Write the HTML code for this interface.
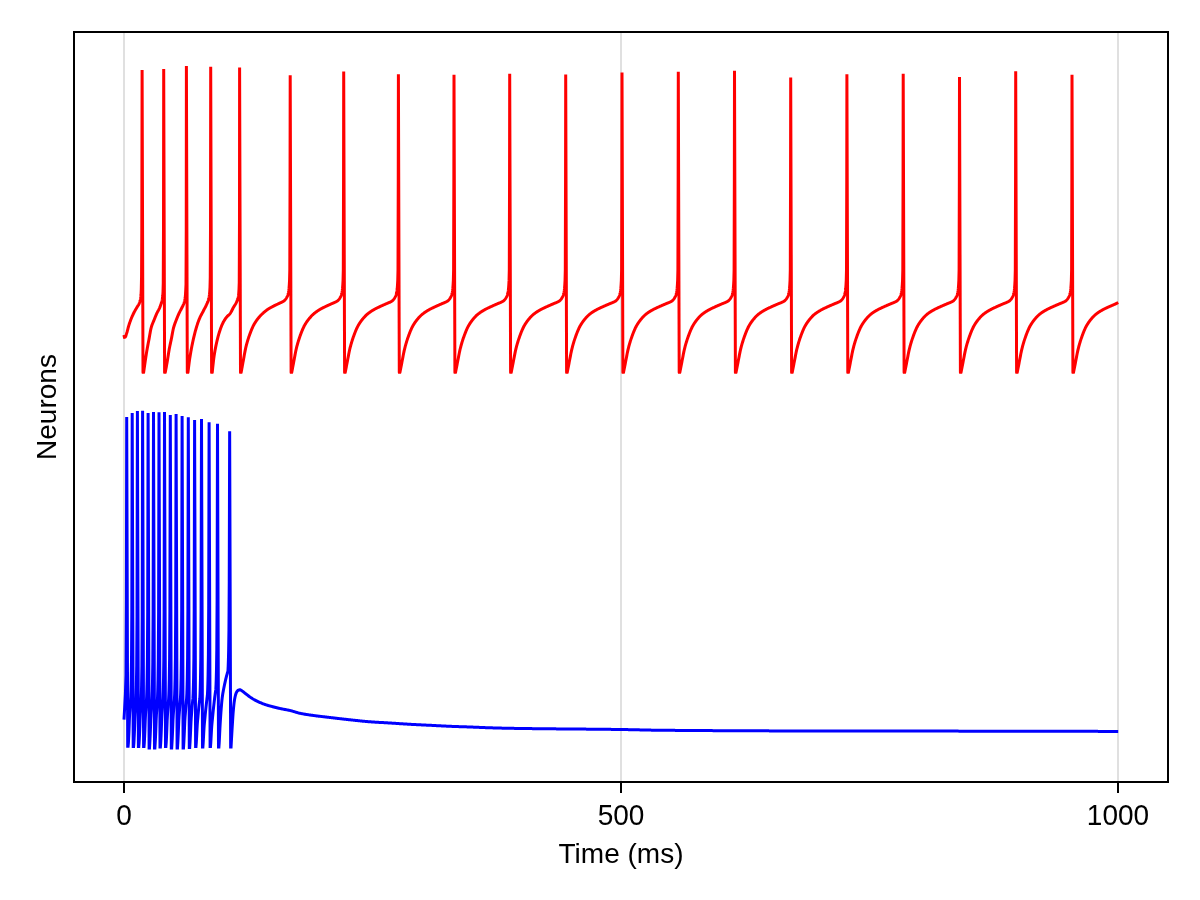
<!DOCTYPE html>
<html lang="en">
<head>
<meta charset="utf-8">
<title>Neurons</title>
<style>
html,body{margin:0;padding:0;background:#fff;}
body{width:1200px;height:900px;overflow:hidden;}
svg{display:block;}
text{font-family:"Liberation Sans",sans-serif;font-size:28px;fill:#000;}
</style>
</head>
<body>
<svg width="1200" height="900" viewBox="0 0 1200 900">
<rect x="0" y="0" width="1200" height="900" fill="#ffffff"/>
<g stroke="#000" stroke-opacity="0.12" stroke-width="2" fill="none">
<line x1="124" y1="33" x2="124" y2="781"/>
<line x1="621" y1="33" x2="621" y2="781"/>
<line x1="1118" y1="33" x2="1118" y2="781"/>
</g>
<path d="M124.00,335.00 L124.25,336.54 L124.49,337.30 L124.74,337.27 L124.99,337.17 L125.24,337.04 L125.48,336.77 L125.73,336.19 L125.98,335.42 L126.22,334.63 L126.47,333.88 L126.72,333.09 L126.97,332.24 L127.21,331.35 L127.46,330.44 L127.71,329.52 L127.96,328.59 L128.20,327.67 L128.45,326.77 L128.70,325.91 L128.94,325.09 L129.19,324.32 L129.44,323.58 L129.69,322.85 L129.93,322.13 L130.18,321.43 L130.43,320.75 L130.68,320.08 L130.92,319.43 L131.17,318.79 L131.42,318.17 L131.66,317.56 L131.91,316.97 L132.16,316.40 L132.41,315.84 L132.65,315.30 L132.90,314.77 L133.15,314.25 L133.39,313.74 L133.64,313.24 L133.89,312.75 L134.14,312.27 L134.38,311.80 L134.63,311.33 L134.88,310.87 L135.12,310.43 L135.37,309.99 L135.62,309.57 L135.87,309.15 L136.11,308.74 L136.36,308.33 L136.61,307.92 L136.86,307.51 L137.10,307.10 L137.35,306.69 L137.60,306.27 L137.84,305.88 L138.09,305.50 L138.34,305.11 L138.59,304.70 L138.83,304.25 L139.08,303.74 L139.33,303.19 L139.58,302.58 L139.82,301.87 L140.07,301.02 L140.32,300.00 L140.56,298.71 L140.81,296.91 L141.06,294.25 L141.31,288.88 L141.55,276.70 L141.80,230.00 L142.10,69.90 L143.00,372.20 L143.30,373.20 L143.65,372.40 L143.90,370.56 L144.15,368.74 L144.39,366.95 L144.64,365.19 L144.89,363.46 L145.14,361.76 L145.39,360.09 L145.63,358.44 L145.88,356.82 L146.13,355.22 L146.38,353.64 L146.63,352.11 L146.88,350.61 L147.12,349.16 L147.37,347.76 L147.62,346.41 L147.87,345.10 L148.12,343.81 L148.36,342.53 L148.61,341.25 L148.86,339.96 L149.11,338.65 L149.36,337.28 L149.61,335.85 L149.85,334.38 L150.10,332.93 L150.35,331.53 L150.60,330.22 L150.85,329.04 L151.09,328.02 L151.34,327.15 L151.59,326.33 L151.84,325.58 L152.09,324.87 L152.33,324.20 L152.58,323.57 L152.83,322.96 L153.08,322.36 L153.33,321.77 L153.57,321.19 L153.82,320.59 L154.07,319.97 L154.32,319.34 L154.57,318.72 L154.82,318.10 L155.06,317.48 L155.31,316.87 L155.56,316.27 L155.81,315.68 L156.06,315.10 L156.30,314.52 L156.55,313.96 L156.80,313.42 L157.05,312.88 L157.30,312.38 L157.55,311.90 L157.79,311.44 L158.04,310.99 L158.29,310.54 L158.54,310.08 L158.79,309.62 L159.03,309.14 L159.28,308.63 L159.53,308.09 L159.78,307.51 L160.03,306.91 L160.27,306.26 L160.52,305.58 L160.77,304.87 L161.02,304.11 L161.27,303.31 L161.51,302.51 L161.76,301.70 L162.01,300.77 L162.26,299.61 L162.51,298.08 L162.76,295.77 L163.00,292.03 L163.25,283.19 L163.50,230.00 L163.70,68.90 L164.60,372.20 L164.90,373.20 L165.25,372.40 L165.50,371.12 L165.75,369.81 L166.00,368.48 L166.25,367.12 L166.50,365.74 L166.75,364.34 L167.00,362.91 L167.25,361.46 L167.50,360.00 L167.75,358.47 L168.00,356.87 L168.25,355.22 L168.50,353.58 L168.75,351.97 L169.00,350.44 L169.25,349.03 L169.50,347.71 L169.75,346.46 L170.00,345.25 L170.25,344.08 L170.50,342.93 L170.75,341.78 L171.00,340.62 L171.25,339.43 L171.50,338.20 L171.75,336.89 L172.00,335.52 L172.25,334.13 L172.50,332.76 L172.75,331.43 L173.00,330.17 L173.25,329.01 L173.50,328.00 L173.75,327.10 L174.00,326.25 L174.25,325.45 L174.50,324.69 L174.75,323.98 L175.00,323.28 L175.25,322.62 L175.50,321.96 L175.75,321.32 L176.00,320.68 L176.25,320.03 L176.50,319.38 L176.75,318.74 L177.00,318.10 L177.25,317.48 L177.50,316.87 L177.75,316.27 L178.00,315.68 L178.25,315.10 L178.50,314.53 L178.75,313.97 L179.00,313.42 L179.25,312.88 L179.50,312.36 L179.75,311.87 L180.00,311.38 L180.25,310.91 L180.50,310.43 L180.75,309.96 L181.00,309.49 L181.25,309.01 L181.50,308.52 L181.75,308.01 L182.00,307.49 L182.25,306.98 L182.50,306.49 L182.75,306.00 L183.00,305.48 L183.25,304.94 L183.50,304.36 L183.75,303.72 L184.00,303.01 L184.25,302.22 L184.50,301.37 L184.75,300.33 L185.00,299.02 L185.25,297.30 L185.50,294.28 L185.75,289.90 L186.00,284.52 L186.25,230.00 L186.40,65.90 L187.30,372.20 L187.60,373.20 L187.95,372.40 L188.20,370.30 L188.45,368.25 L188.69,366.24 L188.94,364.30 L189.19,362.42 L189.44,360.61 L189.68,358.88 L189.93,357.23 L190.18,355.67 L190.43,354.15 L190.68,352.68 L190.92,351.26 L191.17,349.89 L191.42,348.55 L191.67,347.26 L191.91,345.99 L192.16,344.77 L192.41,343.57 L192.66,342.39 L192.91,341.25 L193.15,340.12 L193.40,339.02 L193.65,337.93 L193.90,336.87 L194.15,335.83 L194.39,334.82 L194.64,333.83 L194.89,332.86 L195.14,331.91 L195.38,330.99 L195.63,330.09 L195.88,329.22 L196.13,328.36 L196.38,327.53 L196.62,326.71 L196.87,325.90 L197.12,325.11 L197.37,324.34 L197.61,323.58 L197.86,322.85 L198.11,322.13 L198.36,321.44 L198.61,320.76 L198.85,320.11 L199.10,319.49 L199.35,318.88 L199.60,318.30 L199.84,317.75 L200.09,317.21 L200.34,316.69 L200.59,316.18 L200.84,315.69 L201.08,315.20 L201.33,314.73 L201.58,314.26 L201.83,313.80 L202.07,313.34 L202.32,312.87 L202.57,312.41 L202.82,311.94 L203.07,311.46 L203.31,310.97 L203.56,310.49 L203.81,310.01 L204.06,309.54 L204.30,309.08 L204.55,308.62 L204.80,308.15 L205.05,307.69 L205.30,307.22 L205.54,306.73 L205.79,306.24 L206.04,305.74 L206.29,305.21 L206.54,304.67 L206.78,304.11 L207.03,303.57 L207.28,303.04 L207.53,302.50 L207.77,301.92 L208.02,301.27 L208.27,300.54 L208.52,299.70 L208.77,298.73 L209.01,297.59 L209.26,296.14 L209.51,294.18 L209.76,291.54 L210.00,287.35 L210.25,277.81 L210.50,230.00 L210.70,66.70 L211.60,372.20 L211.90,373.20 L212.25,372.40 L212.50,369.85 L212.75,367.38 L213.00,365.00 L213.25,362.73 L213.50,360.59 L213.75,358.61 L214.00,356.80 L214.25,355.13 L214.50,353.54 L214.75,352.02 L215.00,350.58 L215.25,349.20 L215.50,347.88 L215.75,346.61 L216.00,345.40 L216.25,344.22 L216.50,343.09 L216.75,341.98 L217.00,340.91 L217.25,339.86 L217.50,338.84 L217.75,337.85 L218.00,336.89 L218.25,335.96 L218.50,335.05 L218.75,334.18 L219.00,333.33 L219.25,332.50 L219.50,331.71 L219.75,330.94 L220.00,330.20 L220.25,329.48 L220.50,328.78 L220.75,328.09 L221.00,327.42 L221.25,326.78 L221.50,326.14 L221.75,325.53 L222.00,324.94 L222.25,324.37 L222.50,323.82 L222.75,323.29 L223.00,322.78 L223.25,322.29 L223.50,321.83 L223.75,321.38 L224.00,320.94 L224.25,320.51 L224.50,320.10 L224.75,319.70 L225.00,319.32 L225.25,318.94 L225.50,318.58 L225.75,318.23 L226.00,317.89 L226.25,317.56 L226.50,317.25 L226.75,316.94 L227.00,316.66 L227.25,316.39 L227.50,316.15 L227.75,315.91 L228.00,315.69 L228.25,315.47 L228.50,315.25 L228.75,315.03 L229.00,314.80 L229.25,314.55 L229.50,314.29 L229.75,314.01 L230.00,313.70 L230.25,313.36 L230.50,312.98 L230.75,312.57 L231.00,312.13 L231.25,311.67 L231.50,311.20 L231.75,310.71 L232.00,310.21 L232.25,309.72 L232.50,309.22 L232.75,308.73 L233.00,308.25 L233.25,307.79 L233.50,307.35 L233.75,306.93 L234.00,306.52 L234.25,306.12 L234.50,305.73 L234.75,305.33 L235.00,304.93 L235.25,304.53 L235.50,304.10 L235.75,303.66 L236.00,303.19 L236.25,302.69 L236.50,302.16 L236.75,301.58 L237.00,301.02 L237.25,300.45 L237.50,299.82 L237.75,299.08 L238.00,298.19 L238.25,297.08 L238.50,295.67 L238.75,293.32 L239.00,289.42 L239.25,282.26 L239.50,220.00 L239.60,67.50 L240.50,372.20 L240.80,373.20 L241.15,372.40 L241.40,371.01 L241.65,369.63 L241.90,368.26 L242.15,366.89 L242.40,365.53 L242.65,364.18 L242.90,362.83 L243.15,361.49 L243.40,360.14 L243.64,358.77 L243.89,357.37 L244.14,355.97 L244.39,354.58 L244.64,353.21 L244.89,351.88 L245.14,350.59 L245.39,349.36 L245.64,348.20 L245.89,347.13 L246.14,346.13 L246.39,345.15 L246.64,344.21 L246.89,343.30 L247.14,342.41 L247.39,341.55 L247.64,340.72 L247.89,339.91 L248.14,339.11 L248.39,338.34 L248.63,337.59 L248.88,336.85 L249.13,336.13 L249.38,335.43 L249.63,334.73 L249.88,334.05 L250.13,333.37 L250.38,332.71 L250.63,332.05 L250.88,331.41 L251.13,330.77 L251.38,330.15 L251.63,329.54 L251.88,328.95 L252.13,328.37 L252.38,327.80 L252.63,327.25 L252.88,326.71 L253.13,326.19 L253.38,325.69 L253.62,325.21 L253.87,324.75 L254.12,324.30 L254.37,323.86 L254.62,323.44 L254.87,323.02 L255.12,322.62 L255.37,322.22 L255.62,321.84 L255.87,321.46 L256.12,321.09 L256.37,320.73 L256.62,320.38 L256.87,320.03 L257.12,319.69 L257.37,319.36 L257.62,319.04 L257.87,318.71 L258.12,318.40 L258.36,318.09 L258.61,317.78 L258.86,317.48 L259.11,317.19 L259.36,316.90 L259.61,316.61 L259.86,316.33 L260.11,316.05 L260.36,315.78 L260.61,315.52 L260.86,315.25 L261.11,315.00 L261.36,314.74 L261.61,314.50 L261.86,314.25 L262.11,314.01 L262.36,313.77 L262.61,313.54 L262.86,313.31 L263.11,313.09 L263.35,312.86 L263.60,312.64 L263.85,312.42 L264.10,312.21 L264.35,312.00 L264.60,311.79 L264.85,311.58 L265.10,311.37 L265.35,311.17 L265.60,310.97 L265.85,310.78 L266.10,310.58 L266.35,310.39 L266.60,310.20 L266.85,310.02 L267.10,309.84 L267.35,309.66 L267.60,309.49 L267.85,309.32 L268.09,309.15 L268.34,308.98 L268.59,308.82 L268.84,308.67 L269.09,308.51 L269.34,308.36 L269.59,308.21 L269.84,308.07 L270.09,307.92 L270.34,307.78 L270.59,307.65 L270.84,307.51 L271.09,307.38 L271.34,307.24 L271.59,307.11 L271.84,306.98 L272.09,306.85 L272.34,306.72 L272.59,306.59 L272.84,306.47 L273.08,306.34 L273.33,306.21 L273.58,306.08 L273.83,305.95 L274.08,305.83 L274.33,305.70 L274.58,305.58 L274.83,305.45 L275.08,305.33 L275.33,305.21 L275.58,305.09 L275.83,304.97 L276.08,304.85 L276.33,304.73 L276.58,304.61 L276.83,304.49 L277.08,304.37 L277.33,304.25 L277.58,304.14 L277.82,304.02 L278.07,303.90 L278.32,303.78 L278.57,303.66 L278.82,303.54 L279.07,303.42 L279.32,303.30 L279.57,303.18 L279.82,303.07 L280.07,302.96 L280.32,302.85 L280.57,302.74 L280.82,302.63 L281.07,302.52 L281.32,302.40 L281.57,302.29 L281.82,302.17 L282.07,302.04 L282.32,301.91 L282.57,301.78 L282.81,301.63 L283.06,301.48 L283.31,301.33 L283.56,301.16 L283.81,300.98 L284.06,300.78 L284.31,300.57 L284.56,300.34 L284.81,300.09 L285.06,299.83 L285.31,299.55 L285.56,299.25 L285.81,298.93 L286.06,298.58 L286.31,298.20 L286.56,297.80 L286.81,297.36 L287.06,296.89 L287.31,296.39 L287.56,295.83 L287.80,295.18 L288.05,294.41 L288.30,293.47 L288.55,292.33 L288.80,290.66 L289.05,288.21 L289.30,284.88 L289.55,280.36 L289.80,269.97 L290.05,180.00 L290.20,75.30 L291.10,372.20 L291.40,373.20 L291.75,372.40 L292.00,371.06 L292.25,369.72 L292.50,368.38 L292.75,367.06 L293.00,365.74 L293.24,364.42 L293.49,363.12 L293.74,361.82 L293.99,360.52 L294.24,359.19 L294.49,357.84 L294.74,356.49 L294.99,355.15 L295.24,353.83 L295.49,352.54 L295.73,351.29 L295.98,350.10 L296.23,348.97 L296.48,347.92 L296.73,346.93 L296.98,345.97 L297.23,345.03 L297.48,344.13 L297.73,343.25 L297.98,342.39 L298.23,341.56 L298.47,340.75 L298.72,339.96 L298.97,339.19 L299.22,338.43 L299.47,337.70 L299.72,336.98 L299.97,336.27 L300.22,335.57 L300.47,334.89 L300.72,334.22 L300.96,333.55 L301.21,332.90 L301.46,332.26 L301.71,331.62 L301.96,331.00 L302.21,330.39 L302.46,329.80 L302.71,329.21 L302.96,328.65 L303.21,328.09 L303.45,327.56 L303.70,327.04 L303.95,326.54 L304.20,326.05 L304.45,325.59 L304.70,325.14 L304.95,324.71 L305.20,324.28 L305.45,323.86 L305.70,323.46 L305.95,323.06 L306.19,322.68 L306.44,322.30 L306.69,321.93 L306.94,321.57 L307.19,321.22 L307.44,320.87 L307.69,320.53 L307.94,320.20 L308.19,319.87 L308.44,319.55 L308.68,319.24 L308.93,318.93 L309.18,318.62 L309.43,318.32 L309.68,318.02 L309.93,317.73 L310.18,317.44 L310.43,317.16 L310.68,316.88 L310.93,316.60 L311.18,316.33 L311.42,316.07 L311.67,315.81 L311.92,315.56 L312.17,315.31 L312.42,315.06 L312.67,314.82 L312.92,314.59 L313.17,314.36 L313.42,314.13 L313.67,313.92 L313.91,313.70 L314.16,313.49 L314.41,313.29 L314.66,313.08 L314.91,312.88 L315.16,312.69 L315.41,312.49 L315.66,312.30 L315.91,312.11 L316.16,311.93 L316.40,311.75 L316.65,311.57 L316.90,311.39 L317.15,311.22 L317.40,311.05 L317.65,310.88 L317.90,310.71 L318.15,310.55 L318.40,310.38 L318.65,310.23 L318.90,310.07 L319.14,309.91 L319.39,309.76 L319.64,309.61 L319.89,309.46 L320.14,309.31 L320.39,309.17 L320.64,309.02 L320.89,308.88 L321.14,308.75 L321.39,308.61 L321.63,308.48 L321.88,308.35 L322.13,308.22 L322.38,308.09 L322.63,307.96 L322.88,307.84 L323.13,307.71 L323.38,307.59 L323.63,307.47 L323.88,307.34 L324.12,307.22 L324.37,307.10 L324.62,306.98 L324.87,306.86 L325.12,306.74 L325.37,306.62 L325.62,306.50 L325.87,306.38 L326.12,306.26 L326.37,306.14 L326.62,306.02 L326.86,305.91 L327.11,305.79 L327.36,305.67 L327.61,305.56 L327.86,305.44 L328.11,305.33 L328.36,305.22 L328.61,305.10 L328.86,304.99 L329.11,304.88 L329.35,304.77 L329.60,304.66 L329.85,304.54 L330.10,304.43 L330.35,304.32 L330.60,304.21 L330.85,304.09 L331.10,303.98 L331.35,303.87 L331.60,303.75 L331.85,303.64 L332.09,303.53 L332.34,303.42 L332.59,303.31 L332.84,303.21 L333.09,303.10 L333.34,303.00 L333.59,302.90 L333.84,302.80 L334.09,302.69 L334.34,302.59 L334.58,302.48 L334.83,302.37 L335.08,302.26 L335.33,302.14 L335.58,302.02 L335.83,301.89 L336.08,301.76 L336.33,301.62 L336.58,301.47 L336.83,301.32 L337.07,301.15 L337.32,300.97 L337.57,300.77 L337.82,300.56 L338.07,300.33 L338.32,300.08 L338.57,299.82 L338.82,299.54 L339.07,299.24 L339.32,298.92 L339.57,298.57 L339.81,298.19 L340.06,297.79 L340.31,297.35 L340.56,296.88 L340.81,296.38 L341.06,295.82 L341.31,295.17 L341.56,294.40 L341.81,293.46 L342.06,292.32 L342.30,290.64 L342.55,288.19 L342.80,284.86 L343.05,280.34 L343.30,269.94 L343.55,180.00 L343.70,71.50 L344.60,372.20 L344.90,373.20 L345.25,372.40 L345.50,371.07 L345.75,369.74 L346.00,368.43 L346.25,367.11 L346.50,365.81 L346.75,364.51 L347.00,363.22 L347.25,361.94 L347.50,360.65 L347.75,359.34 L348.00,358.01 L348.25,356.68 L348.50,355.36 L348.75,354.05 L349.00,352.78 L349.25,351.55 L349.50,350.37 L349.75,349.26 L350.00,348.22 L350.25,347.23 L350.50,346.28 L350.75,345.35 L351.00,344.45 L351.25,343.57 L351.50,342.71 L351.75,341.88 L352.00,341.07 L352.25,340.28 L352.50,339.50 L352.75,338.75 L353.00,338.01 L353.25,337.29 L353.50,336.58 L353.75,335.88 L354.00,335.20 L354.25,334.53 L354.50,333.86 L354.75,333.21 L355.00,332.56 L355.25,331.93 L355.50,331.30 L355.75,330.70 L356.00,330.10 L356.25,329.52 L356.50,328.95 L356.75,328.40 L357.00,327.86 L357.25,327.34 L357.50,326.84 L357.75,326.36 L358.00,325.90 L358.25,325.45 L358.50,325.02 L358.75,324.59 L359.00,324.18 L359.25,323.77 L359.50,323.38 L359.75,322.99 L360.00,322.62 L360.25,322.25 L360.50,321.89 L360.75,321.53 L361.00,321.19 L361.25,320.85 L361.50,320.52 L361.75,320.19 L362.00,319.87 L362.25,319.56 L362.50,319.25 L362.75,318.94 L363.00,318.64 L363.25,318.34 L363.50,318.05 L363.75,317.76 L364.00,317.47 L364.25,317.19 L364.50,316.92 L364.75,316.65 L365.00,316.38 L365.25,316.12 L365.50,315.87 L365.75,315.62 L366.00,315.38 L366.25,315.14 L366.50,314.91 L366.75,314.68 L367.00,314.46 L367.25,314.24 L367.50,314.03 L367.75,313.83 L368.00,313.62 L368.25,313.42 L368.50,313.23 L368.75,313.04 L369.00,312.85 L369.25,312.66 L369.50,312.48 L369.75,312.30 L370.00,312.12 L370.25,311.94 L370.50,311.77 L370.75,311.60 L371.00,311.43 L371.25,311.27 L371.50,311.11 L371.75,310.95 L372.00,310.79 L372.25,310.63 L372.50,310.48 L372.75,310.32 L373.00,310.17 L373.25,310.02 L373.50,309.87 L373.75,309.73 L374.00,309.58 L374.25,309.44 L374.50,309.30 L374.75,309.16 L375.00,309.03 L375.25,308.90 L375.50,308.76 L375.75,308.63 L376.00,308.51 L376.25,308.38 L376.50,308.25 L376.75,308.13 L377.00,308.01 L377.25,307.88 L377.50,307.76 L377.75,307.64 L378.00,307.52 L378.25,307.40 L378.50,307.28 L378.75,307.16 L379.00,307.05 L379.25,306.93 L379.50,306.81 L379.75,306.69 L380.00,306.57 L380.25,306.45 L380.50,306.33 L380.75,306.22 L381.00,306.10 L381.25,305.98 L381.50,305.87 L381.75,305.76 L382.00,305.64 L382.25,305.53 L382.50,305.42 L382.75,305.31 L383.00,305.19 L383.25,305.08 L383.50,304.97 L383.75,304.86 L384.00,304.75 L384.25,304.64 L384.50,304.53 L384.75,304.42 L385.00,304.30 L385.25,304.19 L385.50,304.08 L385.75,303.97 L386.00,303.86 L386.25,303.74 L386.50,303.63 L386.75,303.52 L387.00,303.42 L387.25,303.31 L387.50,303.21 L387.75,303.11 L388.00,303.01 L388.25,302.91 L388.50,302.81 L388.75,302.70 L389.00,302.60 L389.25,302.49 L389.50,302.38 L389.75,302.27 L390.00,302.15 L390.25,302.03 L390.50,301.91 L390.75,301.77 L391.00,301.64 L391.25,301.49 L391.50,301.34 L391.75,301.17 L392.00,300.99 L392.25,300.79 L392.50,300.58 L392.75,300.35 L393.00,300.10 L393.25,299.84 L393.50,299.56 L393.75,299.26 L394.00,298.94 L394.25,298.59 L394.50,298.22 L394.75,297.81 L395.00,297.38 L395.25,296.90 L395.50,296.40 L395.75,295.84 L396.00,295.20 L396.25,294.42 L396.50,293.49 L396.75,292.35 L397.00,290.68 L397.25,288.24 L397.50,284.91 L397.75,280.39 L398.00,270.00 L398.25,180.00 L398.40,74.20 L399.30,372.20 L399.60,373.20 L399.95,372.40 L400.20,371.09 L400.45,369.78 L400.70,368.48 L400.95,367.18 L401.20,365.89 L401.45,364.61 L401.70,363.34 L401.95,362.07 L402.20,360.80 L402.45,359.51 L402.69,358.20 L402.94,356.89 L403.19,355.59 L403.44,354.31 L403.69,353.05 L403.94,351.84 L404.19,350.67 L404.44,349.57 L404.69,348.53 L404.94,347.56 L405.19,346.61 L405.44,345.68 L405.69,344.78 L405.94,343.91 L406.19,343.05 L406.44,342.22 L406.69,341.41 L406.94,340.62 L407.19,339.85 L407.44,339.09 L407.69,338.35 L407.94,337.63 L408.18,336.92 L408.43,336.23 L408.68,335.54 L408.93,334.87 L409.18,334.21 L409.43,333.55 L409.68,332.91 L409.93,332.27 L410.18,331.65 L410.43,331.04 L410.68,330.45 L410.93,329.86 L411.18,329.30 L411.43,328.75 L411.68,328.21 L411.93,327.69 L412.18,327.19 L412.43,326.71 L412.68,326.24 L412.93,325.80 L413.18,325.36 L413.43,324.93 L413.67,324.52 L413.92,324.11 L414.17,323.72 L414.42,323.33 L414.67,322.96 L414.92,322.59 L415.17,322.23 L415.42,321.87 L415.67,321.53 L415.92,321.19 L416.17,320.86 L416.42,320.53 L416.67,320.21 L416.92,319.90 L417.17,319.58 L417.42,319.28 L417.67,318.98 L417.92,318.68 L418.17,318.38 L418.42,318.10 L418.67,317.81 L418.91,317.53 L419.16,317.25 L419.41,316.98 L419.66,316.72 L419.91,316.46 L420.16,316.20 L420.41,315.95 L420.66,315.71 L420.91,315.47 L421.16,315.24 L421.41,315.01 L421.66,314.79 L421.91,314.58 L422.16,314.37 L422.41,314.16 L422.66,313.96 L422.91,313.77 L423.16,313.57 L423.41,313.38 L423.66,313.20 L423.91,313.01 L424.16,312.83 L424.40,312.65 L424.65,312.48 L424.90,312.31 L425.15,312.14 L425.40,311.97 L425.65,311.80 L425.90,311.64 L426.15,311.48 L426.40,311.32 L426.65,311.17 L426.90,311.01 L427.15,310.86 L427.40,310.71 L427.65,310.56 L427.90,310.41 L428.15,310.26 L428.40,310.12 L428.65,309.97 L428.90,309.83 L429.15,309.69 L429.40,309.55 L429.64,309.42 L429.89,309.28 L430.14,309.15 L430.39,309.02 L430.64,308.89 L430.89,308.76 L431.14,308.64 L431.39,308.51 L431.64,308.39 L431.89,308.27 L432.14,308.15 L432.39,308.03 L432.64,307.91 L432.89,307.79 L433.14,307.67 L433.39,307.55 L433.64,307.43 L433.89,307.32 L434.14,307.20 L434.39,307.08 L434.64,306.97 L434.89,306.85 L435.13,306.73 L435.38,306.61 L435.63,306.50 L435.88,306.38 L436.13,306.27 L436.38,306.15 L436.63,306.04 L436.88,305.92 L437.13,305.81 L437.38,305.70 L437.63,305.59 L437.88,305.48 L438.13,305.37 L438.38,305.26 L438.63,305.15 L438.88,305.04 L439.13,304.93 L439.38,304.82 L439.63,304.71 L439.88,304.60 L440.13,304.49 L440.38,304.38 L440.62,304.27 L440.87,304.16 L441.12,304.05 L441.37,303.94 L441.62,303.82 L441.87,303.71 L442.12,303.60 L442.37,303.50 L442.62,303.40 L442.87,303.30 L443.12,303.19 L443.37,303.10 L443.62,303.00 L443.87,302.90 L444.12,302.80 L444.37,302.69 L444.62,302.59 L444.87,302.48 L445.12,302.37 L445.37,302.26 L445.62,302.14 L445.86,302.02 L446.11,301.90 L446.36,301.76 L446.61,301.63 L446.86,301.48 L447.11,301.33 L447.36,301.16 L447.61,300.98 L447.86,300.78 L448.11,300.57 L448.36,300.34 L448.61,300.09 L448.86,299.83 L449.11,299.55 L449.36,299.25 L449.61,298.93 L449.86,298.58 L450.11,298.21 L450.36,297.80 L450.61,297.36 L450.86,296.89 L451.11,296.39 L451.35,295.83 L451.60,295.19 L451.85,294.41 L452.10,293.48 L452.35,292.33 L452.60,290.66 L452.85,288.22 L453.10,284.89 L453.35,280.37 L453.60,269.97 L453.85,180.00 L454.00,74.70 L454.90,372.20 L455.20,373.20 L455.55,372.40 L455.80,371.08 L456.05,369.77 L456.30,368.47 L456.55,367.17 L456.80,365.88 L457.05,364.60 L457.30,363.32 L457.55,362.05 L457.80,360.78 L458.05,359.48 L458.30,358.18 L458.55,356.86 L458.80,355.56 L459.05,354.27 L459.30,353.02 L459.55,351.80 L459.80,350.64 L460.05,349.53 L460.30,348.50 L460.55,347.52 L460.80,346.57 L461.05,345.64 L461.30,344.74 L461.55,343.87 L461.80,343.01 L462.05,342.18 L462.30,341.37 L462.55,340.58 L462.80,339.81 L463.05,339.05 L463.30,338.31 L463.55,337.59 L463.80,336.88 L464.05,336.18 L464.30,335.50 L464.55,334.83 L464.80,334.16 L465.05,333.51 L465.30,332.86 L465.55,332.23 L465.80,331.61 L466.05,331.00 L466.30,330.40 L466.55,329.82 L466.80,329.25 L467.05,328.70 L467.30,328.16 L467.55,327.65 L467.80,327.14 L468.05,326.66 L468.30,326.20 L468.55,325.75 L468.80,325.32 L469.05,324.89 L469.30,324.48 L469.55,324.07 L469.80,323.68 L470.05,323.29 L470.30,322.92 L470.55,322.55 L470.80,322.19 L471.05,321.83 L471.30,321.49 L471.55,321.15 L471.80,320.82 L472.05,320.49 L472.30,320.17 L472.55,319.86 L472.80,319.55 L473.05,319.24 L473.30,318.94 L473.55,318.64 L473.80,318.35 L474.05,318.06 L474.30,317.77 L474.55,317.49 L474.80,317.21 L475.05,316.94 L475.30,316.68 L475.55,316.42 L475.80,316.16 L476.05,315.91 L476.30,315.67 L476.55,315.43 L476.80,315.20 L477.05,314.97 L477.30,314.75 L477.55,314.54 L477.80,314.33 L478.05,314.13 L478.30,313.93 L478.55,313.74 L478.80,313.54 L479.05,313.35 L479.30,313.17 L479.55,312.98 L479.80,312.80 L480.05,312.63 L480.30,312.45 L480.55,312.28 L480.80,312.11 L481.05,311.94 L481.30,311.78 L481.55,311.62 L481.80,311.46 L482.05,311.30 L482.30,311.15 L482.55,310.99 L482.80,310.84 L483.05,310.69 L483.30,310.54 L483.55,310.39 L483.80,310.25 L484.05,310.10 L484.30,309.96 L484.55,309.82 L484.80,309.68 L485.05,309.54 L485.30,309.40 L485.55,309.27 L485.80,309.14 L486.05,309.01 L486.30,308.88 L486.55,308.75 L486.80,308.63 L487.05,308.50 L487.30,308.38 L487.55,308.26 L487.80,308.14 L488.05,308.02 L488.30,307.90 L488.55,307.78 L488.80,307.66 L489.05,307.54 L489.30,307.43 L489.55,307.31 L489.80,307.19 L490.05,307.08 L490.30,306.96 L490.55,306.84 L490.80,306.72 L491.05,306.61 L491.30,306.49 L491.55,306.38 L491.80,306.26 L492.05,306.15 L492.30,306.03 L492.55,305.92 L492.80,305.81 L493.05,305.70 L493.30,305.59 L493.55,305.48 L493.80,305.36 L494.05,305.25 L494.30,305.14 L494.55,305.04 L494.80,304.93 L495.05,304.82 L495.30,304.71 L495.55,304.60 L495.80,304.49 L496.05,304.38 L496.30,304.27 L496.55,304.16 L496.80,304.05 L497.05,303.94 L497.30,303.82 L497.55,303.71 L497.80,303.61 L498.05,303.50 L498.30,303.40 L498.55,303.30 L498.80,303.20 L499.05,303.10 L499.30,303.00 L499.55,302.90 L499.80,302.80 L500.05,302.70 L500.30,302.59 L500.55,302.49 L500.80,302.38 L501.05,302.27 L501.30,302.15 L501.55,302.03 L501.80,301.90 L502.05,301.77 L502.30,301.63 L502.55,301.49 L502.80,301.34 L503.05,301.17 L503.30,300.99 L503.55,300.79 L503.80,300.58 L504.05,300.35 L504.30,300.10 L504.55,299.84 L504.80,299.56 L505.05,299.26 L505.30,298.94 L505.55,298.59 L505.80,298.22 L506.05,297.81 L506.30,297.38 L506.55,296.90 L506.80,296.40 L507.05,295.84 L507.30,295.20 L507.55,294.42 L507.80,293.49 L508.05,292.35 L508.30,290.68 L508.55,288.24 L508.80,284.91 L509.05,280.39 L509.30,270.00 L509.55,180.00 L509.70,73.70 L510.60,372.20 L510.90,373.20 L511.25,372.40 L511.50,371.09 L511.75,369.78 L512.00,368.48 L512.25,367.19 L512.50,365.90 L512.74,364.63 L512.99,363.35 L513.24,362.09 L513.49,360.82 L513.74,359.53 L513.99,358.23 L514.24,356.92 L514.49,355.62 L514.74,354.34 L514.99,353.09 L515.24,351.87 L515.48,350.71 L515.73,349.60 L515.98,348.57 L516.23,347.59 L516.48,346.64 L516.73,345.72 L516.98,344.82 L517.23,343.94 L517.48,343.09 L517.73,342.26 L517.98,341.45 L518.22,340.66 L518.47,339.89 L518.72,339.13 L518.97,338.40 L519.22,337.67 L519.47,336.96 L519.72,336.27 L519.97,335.59 L520.22,334.91 L520.47,334.25 L520.72,333.60 L520.96,332.95 L521.21,332.32 L521.46,331.70 L521.71,331.09 L521.96,330.49 L522.21,329.91 L522.46,329.34 L522.71,328.79 L522.96,328.25 L523.21,327.74 L523.46,327.23 L523.70,326.75 L523.95,326.29 L524.20,325.84 L524.45,325.40 L524.70,324.98 L524.95,324.56 L525.20,324.16 L525.45,323.76 L525.70,323.37 L525.95,323.00 L526.19,322.63 L526.44,322.27 L526.69,321.91 L526.94,321.57 L527.19,321.23 L527.44,320.90 L527.69,320.57 L527.94,320.25 L528.19,319.93 L528.44,319.62 L528.69,319.32 L528.93,319.02 L529.18,318.72 L529.43,318.42 L529.68,318.13 L529.93,317.85 L530.18,317.57 L530.43,317.29 L530.68,317.02 L530.93,316.75 L531.18,316.49 L531.43,316.23 L531.67,315.98 L531.92,315.74 L532.17,315.50 L532.42,315.27 L532.67,315.04 L532.92,314.82 L533.17,314.61 L533.42,314.40 L533.67,314.20 L533.92,314.00 L534.17,313.81 L534.41,313.61 L534.66,313.43 L534.91,313.24 L535.16,313.06 L535.41,312.88 L535.66,312.71 L535.91,312.53 L536.16,312.36 L536.41,312.19 L536.66,312.03 L536.91,311.87 L537.15,311.71 L537.40,311.55 L537.65,311.39 L537.90,311.24 L538.15,311.09 L538.40,310.94 L538.65,310.79 L538.90,310.64 L539.15,310.49 L539.40,310.35 L539.65,310.21 L539.89,310.06 L540.14,309.92 L540.39,309.78 L540.64,309.65 L540.89,309.51 L541.14,309.38 L541.39,309.25 L541.64,309.12 L541.89,308.99 L542.14,308.86 L542.39,308.74 L542.63,308.62 L542.88,308.49 L543.13,308.37 L543.38,308.25 L543.63,308.13 L543.88,308.02 L544.13,307.90 L544.38,307.78 L544.63,307.66 L544.88,307.55 L545.13,307.43 L545.37,307.32 L545.62,307.20 L545.87,307.09 L546.12,306.97 L546.37,306.86 L546.62,306.74 L546.87,306.63 L547.12,306.51 L547.37,306.40 L547.62,306.29 L547.87,306.17 L548.11,306.06 L548.36,305.95 L548.61,305.84 L548.86,305.73 L549.11,305.62 L549.36,305.51 L549.61,305.40 L549.86,305.29 L550.11,305.19 L550.36,305.08 L550.61,304.97 L550.85,304.86 L551.10,304.75 L551.35,304.65 L551.60,304.54 L551.85,304.43 L552.10,304.32 L552.35,304.21 L552.60,304.10 L552.85,304.00 L553.10,303.89 L553.34,303.78 L553.59,303.67 L553.84,303.56 L554.09,303.46 L554.34,303.36 L554.59,303.26 L554.84,303.16 L555.09,303.07 L555.34,302.97 L555.59,302.87 L555.84,302.77 L556.08,302.67 L556.33,302.57 L556.58,302.47 L556.83,302.36 L557.08,302.25 L557.33,302.13 L557.58,302.01 L557.83,301.88 L558.08,301.75 L558.33,301.62 L558.58,301.47 L558.82,301.32 L559.07,301.16 L559.32,300.97 L559.57,300.77 L559.82,300.56 L560.07,300.33 L560.32,300.08 L560.57,299.82 L560.82,299.54 L561.07,299.24 L561.32,298.92 L561.56,298.57 L561.81,298.20 L562.06,297.79 L562.31,297.35 L562.56,296.88 L562.81,296.38 L563.06,295.82 L563.31,295.17 L563.56,294.40 L563.81,293.46 L564.06,292.32 L564.30,290.64 L564.55,288.19 L564.80,284.87 L565.05,280.34 L565.30,269.94 L565.55,180.00 L565.70,74.50 L566.60,372.20 L566.90,373.20 L567.25,372.40 L567.50,371.09 L567.75,369.78 L568.00,368.48 L568.25,367.19 L568.50,365.90 L568.75,364.62 L569.00,363.35 L569.24,362.08 L569.49,360.81 L569.74,359.52 L569.99,358.21 L570.24,356.91 L570.49,355.61 L570.74,354.32 L570.99,353.07 L571.24,351.85 L571.49,350.69 L571.74,349.58 L571.99,348.55 L572.24,347.57 L572.49,346.62 L572.73,345.70 L572.98,344.80 L573.23,343.92 L573.48,343.07 L573.73,342.24 L573.98,341.43 L574.23,340.64 L574.48,339.87 L574.73,339.11 L574.98,338.37 L575.23,337.65 L575.48,336.94 L575.73,336.25 L575.98,335.57 L576.23,334.89 L576.47,334.23 L576.72,333.57 L576.97,332.93 L577.22,332.30 L577.47,331.67 L577.72,331.07 L577.97,330.47 L578.22,329.89 L578.47,329.32 L578.72,328.77 L578.97,328.23 L579.22,327.71 L579.47,327.21 L579.72,326.73 L579.97,326.26 L580.21,325.82 L580.46,325.38 L580.71,324.95 L580.96,324.54 L581.21,324.13 L581.46,323.74 L581.71,323.35 L581.96,322.98 L582.21,322.61 L582.46,322.25 L582.71,321.89 L582.96,321.55 L583.21,321.21 L583.46,320.88 L583.70,320.55 L583.95,320.23 L584.20,319.91 L584.45,319.60 L584.70,319.30 L584.95,319.00 L585.20,318.70 L585.45,318.40 L585.70,318.11 L585.95,317.83 L586.20,317.54 L586.45,317.27 L586.70,317.00 L586.95,316.73 L587.20,316.47 L587.44,316.21 L587.69,315.96 L587.94,315.72 L588.19,315.48 L588.44,315.25 L588.69,315.02 L588.94,314.80 L589.19,314.59 L589.44,314.39 L589.69,314.19 L589.94,313.99 L590.19,313.79 L590.44,313.60 L590.69,313.42 L590.93,313.23 L591.18,313.05 L591.43,312.88 L591.68,312.70 L591.93,312.53 L592.18,312.36 L592.43,312.20 L592.68,312.04 L592.93,311.88 L593.18,311.72 L593.43,311.56 L593.68,311.41 L593.93,311.25 L594.18,311.10 L594.43,310.96 L594.67,310.81 L594.92,310.66 L595.17,310.52 L595.42,310.37 L595.67,310.23 L595.92,310.09 L596.17,309.95 L596.42,309.81 L596.67,309.68 L596.92,309.54 L597.17,309.41 L597.42,309.28 L597.67,309.15 L597.92,309.03 L598.17,308.90 L598.41,308.78 L598.66,308.66 L598.91,308.53 L599.16,308.41 L599.41,308.29 L599.66,308.18 L599.91,308.06 L600.16,307.94 L600.41,307.83 L600.66,307.71 L600.91,307.60 L601.16,307.48 L601.41,307.37 L601.66,307.26 L601.90,307.14 L602.15,307.03 L602.40,306.91 L602.65,306.80 L602.90,306.69 L603.15,306.57 L603.40,306.46 L603.65,306.35 L603.90,306.23 L604.15,306.12 L604.40,306.01 L604.65,305.90 L604.90,305.79 L605.15,305.69 L605.40,305.58 L605.64,305.47 L605.89,305.36 L606.14,305.25 L606.39,305.15 L606.64,305.04 L606.89,304.93 L607.14,304.83 L607.39,304.72 L607.64,304.61 L607.89,304.51 L608.14,304.40 L608.39,304.29 L608.64,304.19 L608.89,304.08 L609.13,303.97 L609.38,303.86 L609.63,303.75 L609.88,303.65 L610.13,303.54 L610.38,303.44 L610.63,303.35 L610.88,303.25 L611.13,303.15 L611.38,303.06 L611.63,302.96 L611.88,302.86 L612.13,302.77 L612.38,302.67 L612.63,302.56 L612.87,302.46 L613.12,302.35 L613.37,302.24 L613.62,302.13 L613.87,302.01 L614.12,301.89 L614.37,301.76 L614.62,301.62 L614.87,301.48 L615.12,301.33 L615.37,301.16 L615.62,300.98 L615.87,300.78 L616.12,300.56 L616.37,300.33 L616.61,300.08 L616.86,299.82 L617.11,299.54 L617.36,299.24 L617.61,298.92 L617.86,298.57 L618.11,298.20 L618.36,297.80 L618.61,297.36 L618.86,296.89 L619.11,296.38 L619.36,295.83 L619.61,295.18 L619.86,294.41 L620.10,293.47 L620.35,292.33 L620.60,290.65 L620.85,288.21 L621.10,284.88 L621.35,280.35 L621.60,269.95 L621.85,180.00 L622.00,72.60 L622.90,372.20 L623.20,373.20 L623.55,372.40 L623.80,371.09 L624.05,369.78 L624.30,368.48 L624.55,367.19 L624.80,365.90 L625.05,364.62 L625.30,363.35 L625.54,362.08 L625.79,360.81 L626.04,359.52 L626.29,358.21 L626.54,356.91 L626.79,355.61 L627.04,354.32 L627.29,353.07 L627.54,351.85 L627.79,350.69 L628.04,349.58 L628.29,348.55 L628.54,347.57 L628.79,346.62 L629.03,345.70 L629.28,344.80 L629.53,343.92 L629.78,343.07 L630.03,342.24 L630.28,341.43 L630.53,340.64 L630.78,339.87 L631.03,339.11 L631.28,338.37 L631.53,337.65 L631.78,336.94 L632.03,336.25 L632.28,335.57 L632.53,334.89 L632.77,334.23 L633.02,333.57 L633.27,332.93 L633.52,332.30 L633.77,331.67 L634.02,331.07 L634.27,330.47 L634.52,329.89 L634.77,329.32 L635.02,328.77 L635.27,328.23 L635.52,327.71 L635.77,327.21 L636.02,326.73 L636.27,326.26 L636.51,325.82 L636.76,325.38 L637.01,324.95 L637.26,324.54 L637.51,324.13 L637.76,323.74 L638.01,323.35 L638.26,322.98 L638.51,322.61 L638.76,322.25 L639.01,321.89 L639.26,321.55 L639.51,321.21 L639.76,320.88 L640.00,320.55 L640.25,320.23 L640.50,319.91 L640.75,319.60 L641.00,319.30 L641.25,319.00 L641.50,318.70 L641.75,318.40 L642.00,318.11 L642.25,317.83 L642.50,317.54 L642.75,317.27 L643.00,317.00 L643.25,316.73 L643.50,316.47 L643.74,316.21 L643.99,315.96 L644.24,315.72 L644.49,315.48 L644.74,315.25 L644.99,315.02 L645.24,314.80 L645.49,314.59 L645.74,314.39 L645.99,314.19 L646.24,313.99 L646.49,313.79 L646.74,313.60 L646.99,313.42 L647.23,313.23 L647.48,313.05 L647.73,312.88 L647.98,312.70 L648.23,312.53 L648.48,312.36 L648.73,312.20 L648.98,312.04 L649.23,311.88 L649.48,311.72 L649.73,311.56 L649.98,311.41 L650.23,311.25 L650.48,311.10 L650.73,310.96 L650.97,310.81 L651.22,310.66 L651.47,310.52 L651.72,310.37 L651.97,310.23 L652.22,310.09 L652.47,309.95 L652.72,309.81 L652.97,309.68 L653.22,309.54 L653.47,309.41 L653.72,309.28 L653.97,309.15 L654.22,309.03 L654.47,308.90 L654.71,308.78 L654.96,308.66 L655.21,308.53 L655.46,308.41 L655.71,308.29 L655.96,308.18 L656.21,308.06 L656.46,307.94 L656.71,307.83 L656.96,307.71 L657.21,307.60 L657.46,307.48 L657.71,307.37 L657.96,307.26 L658.20,307.14 L658.45,307.03 L658.70,306.91 L658.95,306.80 L659.20,306.69 L659.45,306.57 L659.70,306.46 L659.95,306.35 L660.20,306.23 L660.45,306.12 L660.70,306.01 L660.95,305.90 L661.20,305.79 L661.45,305.69 L661.70,305.58 L661.94,305.47 L662.19,305.36 L662.44,305.25 L662.69,305.15 L662.94,305.04 L663.19,304.93 L663.44,304.83 L663.69,304.72 L663.94,304.61 L664.19,304.51 L664.44,304.40 L664.69,304.29 L664.94,304.19 L665.19,304.08 L665.43,303.97 L665.68,303.86 L665.93,303.75 L666.18,303.65 L666.43,303.54 L666.68,303.44 L666.93,303.35 L667.18,303.25 L667.43,303.15 L667.68,303.06 L667.93,302.96 L668.18,302.86 L668.43,302.77 L668.68,302.67 L668.93,302.56 L669.17,302.46 L669.42,302.35 L669.67,302.24 L669.92,302.13 L670.17,302.01 L670.42,301.89 L670.67,301.76 L670.92,301.62 L671.17,301.48 L671.42,301.33 L671.67,301.16 L671.92,300.98 L672.17,300.78 L672.42,300.56 L672.67,300.33 L672.91,300.08 L673.16,299.82 L673.41,299.54 L673.66,299.24 L673.91,298.92 L674.16,298.57 L674.41,298.20 L674.66,297.80 L674.91,297.36 L675.16,296.89 L675.41,296.38 L675.66,295.83 L675.91,295.18 L676.16,294.41 L676.40,293.47 L676.65,292.33 L676.90,290.65 L677.15,288.21 L677.40,284.88 L677.65,280.35 L677.90,269.95 L678.15,180.00 L678.30,71.80 L679.20,372.20 L679.50,373.20 L679.85,372.40 L680.10,371.09 L680.35,369.79 L680.60,368.49 L680.85,367.20 L681.09,365.91 L681.34,364.63 L681.59,363.36 L681.84,362.10 L682.09,360.83 L682.34,359.54 L682.59,358.24 L682.84,356.93 L683.09,355.64 L683.33,354.35 L683.58,353.10 L683.83,351.89 L684.08,350.72 L684.33,349.62 L684.58,348.59 L684.83,347.61 L685.08,346.66 L685.32,345.74 L685.57,344.84 L685.82,343.96 L686.07,343.11 L686.32,342.28 L686.57,341.47 L686.82,340.68 L687.07,339.91 L687.32,339.15 L687.56,338.42 L687.81,337.69 L688.06,336.99 L688.31,336.29 L688.56,335.61 L688.81,334.94 L689.06,334.27 L689.31,333.62 L689.56,332.98 L689.80,332.34 L690.05,331.72 L690.30,331.11 L690.55,330.52 L690.80,329.93 L691.05,329.37 L691.30,328.81 L691.55,328.28 L691.80,327.76 L692.04,327.25 L692.29,326.77 L692.54,326.31 L692.79,325.86 L693.04,325.42 L693.29,325.00 L693.54,324.58 L693.79,324.18 L694.03,323.78 L694.28,323.39 L694.53,323.02 L694.78,322.65 L695.03,322.29 L695.28,321.93 L695.53,321.59 L695.78,321.25 L696.03,320.92 L696.27,320.59 L696.52,320.27 L696.77,319.95 L697.02,319.64 L697.27,319.34 L697.52,319.03 L697.77,318.74 L698.02,318.44 L698.27,318.15 L698.51,317.87 L698.76,317.58 L699.01,317.31 L699.26,317.04 L699.51,316.77 L699.76,316.51 L700.01,316.25 L700.26,316.00 L700.51,315.76 L700.75,315.52 L701.00,315.28 L701.25,315.06 L701.50,314.84 L701.75,314.63 L702.00,314.42 L702.25,314.22 L702.50,314.02 L702.74,313.83 L702.99,313.63 L703.24,313.45 L703.49,313.26 L703.74,313.08 L703.99,312.90 L704.24,312.73 L704.49,312.56 L704.74,312.39 L704.98,312.22 L705.23,312.06 L705.48,311.90 L705.73,311.74 L705.98,311.58 L706.23,311.43 L706.48,311.27 L706.73,311.12 L706.98,310.97 L707.22,310.83 L707.47,310.68 L707.72,310.53 L707.97,310.39 L708.22,310.25 L708.47,310.11 L708.72,309.97 L708.97,309.83 L709.22,309.69 L709.46,309.56 L709.71,309.42 L709.96,309.29 L710.21,309.17 L710.46,309.04 L710.71,308.91 L710.96,308.79 L711.21,308.67 L711.46,308.54 L711.70,308.42 L711.95,308.30 L712.20,308.19 L712.45,308.07 L712.70,307.95 L712.95,307.84 L713.20,307.72 L713.45,307.61 L713.69,307.49 L713.94,307.38 L714.19,307.26 L714.44,307.15 L714.69,307.03 L714.94,306.92 L715.19,306.81 L715.44,306.69 L715.69,306.58 L715.93,306.46 L716.18,306.35 L716.43,306.24 L716.68,306.13 L716.93,306.02 L717.18,305.91 L717.43,305.80 L717.68,305.69 L717.93,305.58 L718.17,305.47 L718.42,305.36 L718.67,305.26 L718.92,305.15 L719.17,305.04 L719.42,304.94 L719.67,304.83 L719.92,304.72 L720.17,304.62 L720.41,304.51 L720.66,304.40 L720.91,304.29 L721.16,304.19 L721.41,304.08 L721.66,303.97 L721.91,303.86 L722.16,303.75 L722.40,303.65 L722.65,303.54 L722.90,303.44 L723.15,303.34 L723.40,303.25 L723.65,303.15 L723.90,303.05 L724.15,302.96 L724.40,302.86 L724.64,302.76 L724.89,302.66 L725.14,302.56 L725.39,302.46 L725.64,302.35 L725.89,302.24 L726.14,302.12 L726.39,302.00 L726.64,301.88 L726.88,301.75 L727.13,301.61 L727.38,301.47 L727.63,301.32 L727.88,301.15 L728.13,300.97 L728.38,300.77 L728.63,300.55 L728.88,300.32 L729.12,300.07 L729.37,299.81 L729.62,299.53 L729.87,299.23 L730.12,298.91 L730.37,298.56 L730.62,298.19 L730.87,297.79 L731.11,297.35 L731.36,296.88 L731.61,296.37 L731.86,295.82 L732.11,295.17 L732.36,294.39 L732.61,293.46 L732.86,292.31 L733.11,290.63 L733.35,288.18 L733.60,284.86 L733.85,280.33 L734.10,269.92 L734.35,180.00 L734.50,70.70 L735.40,372.20 L735.70,373.20 L736.05,372.40 L736.30,371.09 L736.55,369.79 L736.80,368.49 L737.05,367.20 L737.29,365.91 L737.54,364.63 L737.79,363.36 L738.04,362.10 L738.29,360.83 L738.54,359.54 L738.79,358.24 L739.04,356.93 L739.29,355.64 L739.53,354.35 L739.78,353.10 L740.03,351.89 L740.28,350.72 L740.53,349.62 L740.78,348.59 L741.03,347.61 L741.28,346.66 L741.52,345.74 L741.77,344.84 L742.02,343.96 L742.27,343.11 L742.52,342.28 L742.77,341.47 L743.02,340.68 L743.27,339.91 L743.52,339.15 L743.76,338.42 L744.01,337.69 L744.26,336.99 L744.51,336.29 L744.76,335.61 L745.01,334.94 L745.26,334.27 L745.51,333.62 L745.76,332.98 L746.00,332.34 L746.25,331.72 L746.50,331.11 L746.75,330.52 L747.00,329.93 L747.25,329.37 L747.50,328.81 L747.75,328.28 L748.00,327.76 L748.24,327.25 L748.49,326.77 L748.74,326.31 L748.99,325.86 L749.24,325.42 L749.49,325.00 L749.74,324.58 L749.99,324.18 L750.23,323.78 L750.48,323.39 L750.73,323.02 L750.98,322.65 L751.23,322.29 L751.48,321.93 L751.73,321.59 L751.98,321.25 L752.23,320.92 L752.47,320.59 L752.72,320.27 L752.97,319.95 L753.22,319.64 L753.47,319.34 L753.72,319.03 L753.97,318.74 L754.22,318.44 L754.47,318.15 L754.71,317.87 L754.96,317.58 L755.21,317.31 L755.46,317.04 L755.71,316.77 L755.96,316.51 L756.21,316.25 L756.46,316.00 L756.71,315.76 L756.95,315.52 L757.20,315.28 L757.45,315.06 L757.70,314.84 L757.95,314.63 L758.20,314.42 L758.45,314.22 L758.70,314.02 L758.94,313.83 L759.19,313.63 L759.44,313.45 L759.69,313.26 L759.94,313.08 L760.19,312.90 L760.44,312.73 L760.69,312.56 L760.94,312.39 L761.18,312.22 L761.43,312.06 L761.68,311.90 L761.93,311.74 L762.18,311.58 L762.43,311.43 L762.68,311.27 L762.93,311.12 L763.18,310.97 L763.42,310.83 L763.67,310.68 L763.92,310.53 L764.17,310.39 L764.42,310.25 L764.67,310.11 L764.92,309.97 L765.17,309.83 L765.42,309.69 L765.66,309.56 L765.91,309.42 L766.16,309.29 L766.41,309.17 L766.66,309.04 L766.91,308.91 L767.16,308.79 L767.41,308.67 L767.66,308.54 L767.90,308.42 L768.15,308.30 L768.40,308.19 L768.65,308.07 L768.90,307.95 L769.15,307.84 L769.40,307.72 L769.65,307.61 L769.89,307.49 L770.14,307.38 L770.39,307.26 L770.64,307.15 L770.89,307.03 L771.14,306.92 L771.39,306.81 L771.64,306.69 L771.89,306.58 L772.13,306.46 L772.38,306.35 L772.63,306.24 L772.88,306.13 L773.13,306.02 L773.38,305.91 L773.63,305.80 L773.88,305.69 L774.13,305.58 L774.37,305.47 L774.62,305.36 L774.87,305.26 L775.12,305.15 L775.37,305.04 L775.62,304.94 L775.87,304.83 L776.12,304.72 L776.37,304.62 L776.61,304.51 L776.86,304.40 L777.11,304.29 L777.36,304.19 L777.61,304.08 L777.86,303.97 L778.11,303.86 L778.36,303.75 L778.60,303.65 L778.85,303.54 L779.10,303.44 L779.35,303.34 L779.60,303.25 L779.85,303.15 L780.10,303.05 L780.35,302.96 L780.60,302.86 L780.84,302.76 L781.09,302.66 L781.34,302.56 L781.59,302.46 L781.84,302.35 L782.09,302.24 L782.34,302.12 L782.59,302.00 L782.84,301.88 L783.08,301.75 L783.33,301.61 L783.58,301.47 L783.83,301.32 L784.08,301.15 L784.33,300.97 L784.58,300.77 L784.83,300.55 L785.08,300.32 L785.32,300.07 L785.57,299.81 L785.82,299.53 L786.07,299.23 L786.32,298.91 L786.57,298.56 L786.82,298.19 L787.07,297.79 L787.31,297.35 L787.56,296.88 L787.81,296.37 L788.06,295.82 L788.31,295.17 L788.56,294.39 L788.81,293.46 L789.06,292.31 L789.31,290.63 L789.55,288.18 L789.80,284.86 L790.05,280.33 L790.30,269.92 L790.55,180.00 L790.70,77.40 L791.60,372.20 L791.90,373.20 L792.25,372.40 L792.50,371.08 L792.75,369.77 L793.00,368.47 L793.25,367.17 L793.50,365.88 L793.75,364.60 L794.00,363.32 L794.25,362.05 L794.50,360.78 L794.75,359.48 L795.00,358.18 L795.25,356.86 L795.50,355.56 L795.75,354.27 L796.00,353.02 L796.25,351.80 L796.50,350.64 L796.75,349.53 L797.00,348.50 L797.25,347.52 L797.50,346.57 L797.75,345.64 L798.00,344.74 L798.25,343.87 L798.50,343.01 L798.75,342.18 L799.00,341.37 L799.25,340.58 L799.50,339.81 L799.75,339.05 L800.00,338.31 L800.25,337.59 L800.50,336.88 L800.75,336.18 L801.00,335.50 L801.25,334.83 L801.50,334.16 L801.75,333.51 L802.00,332.86 L802.25,332.23 L802.50,331.61 L802.75,331.00 L803.00,330.40 L803.25,329.82 L803.50,329.25 L803.75,328.70 L804.00,328.16 L804.25,327.65 L804.50,327.14 L804.75,326.66 L805.00,326.20 L805.25,325.75 L805.50,325.32 L805.75,324.89 L806.00,324.48 L806.25,324.07 L806.50,323.68 L806.75,323.29 L807.00,322.92 L807.25,322.55 L807.50,322.19 L807.75,321.83 L808.00,321.49 L808.25,321.15 L808.50,320.82 L808.75,320.49 L809.00,320.17 L809.25,319.86 L809.50,319.55 L809.75,319.24 L810.00,318.94 L810.25,318.64 L810.50,318.34 L810.75,318.05 L811.00,317.77 L811.25,317.49 L811.50,317.21 L811.75,316.94 L812.00,316.67 L812.25,316.41 L812.50,316.16 L812.75,315.91 L813.00,315.66 L813.25,315.43 L813.50,315.20 L813.75,314.97 L814.00,314.75 L814.25,314.54 L814.50,314.34 L814.75,314.14 L815.00,313.94 L815.25,313.74 L815.50,313.55 L815.75,313.37 L816.00,313.18 L816.25,313.00 L816.50,312.83 L816.75,312.65 L817.00,312.48 L817.25,312.31 L817.50,312.15 L817.75,311.98 L818.00,311.82 L818.25,311.66 L818.50,311.51 L818.75,311.35 L819.00,311.20 L819.25,311.05 L819.50,310.90 L819.75,310.75 L820.00,310.61 L820.25,310.46 L820.50,310.32 L820.75,310.17 L821.00,310.03 L821.25,309.89 L821.50,309.75 L821.75,309.62 L822.00,309.48 L822.25,309.35 L822.50,309.22 L822.75,309.09 L823.00,308.97 L823.25,308.84 L823.50,308.72 L823.75,308.60 L824.00,308.47 L824.25,308.35 L824.50,308.23 L824.75,308.12 L825.00,308.00 L825.25,307.88 L825.50,307.77 L825.75,307.65 L826.00,307.53 L826.25,307.42 L826.50,307.30 L826.75,307.19 L827.00,307.08 L827.25,306.96 L827.50,306.85 L827.75,306.73 L828.00,306.62 L828.25,306.50 L828.50,306.39 L828.75,306.28 L829.00,306.16 L829.25,306.05 L829.50,305.94 L829.75,305.83 L830.00,305.72 L830.25,305.61 L830.50,305.50 L830.75,305.40 L831.00,305.29 L831.25,305.18 L831.50,305.07 L831.75,304.97 L832.00,304.86 L832.25,304.75 L832.50,304.64 L832.75,304.54 L833.00,304.43 L833.25,304.32 L833.50,304.21 L833.75,304.10 L834.00,304.00 L834.25,303.89 L834.50,303.78 L834.75,303.67 L835.00,303.57 L835.25,303.46 L835.50,303.36 L835.75,303.27 L836.00,303.17 L836.25,303.07 L836.50,302.98 L836.75,302.88 L837.00,302.78 L837.25,302.68 L837.50,302.58 L837.75,302.47 L838.00,302.37 L838.25,302.26 L838.50,302.14 L838.75,302.02 L839.00,301.90 L839.25,301.77 L839.50,301.63 L839.75,301.49 L840.00,301.34 L840.25,301.17 L840.50,300.99 L840.75,300.79 L841.00,300.58 L841.25,300.35 L841.50,300.10 L841.75,299.84 L842.00,299.56 L842.25,299.26 L842.50,298.94 L842.75,298.59 L843.00,298.22 L843.25,297.81 L843.50,297.38 L843.75,296.90 L844.00,296.40 L844.25,295.84 L844.50,295.20 L844.75,294.42 L845.00,293.49 L845.25,292.35 L845.50,290.68 L845.75,288.24 L846.00,284.91 L846.25,280.39 L846.50,270.00 L846.75,180.00 L846.90,74.20 L847.80,372.20 L848.10,373.20 L848.45,372.40 L848.70,371.09 L848.95,369.78 L849.20,368.48 L849.45,367.19 L849.70,365.90 L849.95,364.62 L850.20,363.35 L850.44,362.08 L850.69,360.81 L850.94,359.52 L851.19,358.21 L851.44,356.91 L851.69,355.61 L851.94,354.32 L852.19,353.07 L852.44,351.85 L852.69,350.69 L852.94,349.58 L853.19,348.55 L853.44,347.57 L853.69,346.62 L853.93,345.70 L854.18,344.80 L854.43,343.92 L854.68,343.07 L854.93,342.24 L855.18,341.43 L855.43,340.64 L855.68,339.87 L855.93,339.11 L856.18,338.37 L856.43,337.65 L856.68,336.94 L856.93,336.25 L857.18,335.57 L857.43,334.89 L857.67,334.23 L857.92,333.57 L858.17,332.93 L858.42,332.30 L858.67,331.67 L858.92,331.07 L859.17,330.47 L859.42,329.89 L859.67,329.32 L859.92,328.77 L860.17,328.23 L860.42,327.71 L860.67,327.21 L860.92,326.73 L861.17,326.26 L861.41,325.82 L861.66,325.38 L861.91,324.95 L862.16,324.54 L862.41,324.13 L862.66,323.74 L862.91,323.35 L863.16,322.98 L863.41,322.61 L863.66,322.25 L863.91,321.89 L864.16,321.55 L864.41,321.21 L864.66,320.88 L864.90,320.55 L865.15,320.23 L865.40,319.91 L865.65,319.60 L865.90,319.30 L866.15,319.00 L866.40,318.70 L866.65,318.40 L866.90,318.11 L867.15,317.83 L867.40,317.54 L867.65,317.27 L867.90,317.00 L868.15,316.73 L868.40,316.47 L868.64,316.21 L868.89,315.96 L869.14,315.72 L869.39,315.48 L869.64,315.25 L869.89,315.02 L870.14,314.80 L870.39,314.59 L870.64,314.39 L870.89,314.19 L871.14,313.99 L871.39,313.79 L871.64,313.60 L871.89,313.42 L872.13,313.23 L872.38,313.05 L872.63,312.88 L872.88,312.70 L873.13,312.53 L873.38,312.36 L873.63,312.20 L873.88,312.04 L874.13,311.88 L874.38,311.72 L874.63,311.56 L874.88,311.41 L875.13,311.25 L875.38,311.10 L875.63,310.96 L875.87,310.81 L876.12,310.66 L876.37,310.52 L876.62,310.37 L876.87,310.23 L877.12,310.09 L877.37,309.95 L877.62,309.81 L877.87,309.68 L878.12,309.54 L878.37,309.41 L878.62,309.28 L878.87,309.15 L879.12,309.03 L879.37,308.90 L879.61,308.78 L879.86,308.66 L880.11,308.53 L880.36,308.41 L880.61,308.29 L880.86,308.18 L881.11,308.06 L881.36,307.94 L881.61,307.83 L881.86,307.71 L882.11,307.60 L882.36,307.48 L882.61,307.37 L882.86,307.26 L883.10,307.14 L883.35,307.03 L883.60,306.91 L883.85,306.80 L884.10,306.69 L884.35,306.57 L884.60,306.46 L884.85,306.35 L885.10,306.23 L885.35,306.12 L885.60,306.01 L885.85,305.90 L886.10,305.79 L886.35,305.69 L886.60,305.58 L886.84,305.47 L887.09,305.36 L887.34,305.25 L887.59,305.15 L887.84,305.04 L888.09,304.93 L888.34,304.83 L888.59,304.72 L888.84,304.61 L889.09,304.51 L889.34,304.40 L889.59,304.29 L889.84,304.19 L890.09,304.08 L890.33,303.97 L890.58,303.86 L890.83,303.75 L891.08,303.65 L891.33,303.54 L891.58,303.44 L891.83,303.35 L892.08,303.25 L892.33,303.15 L892.58,303.06 L892.83,302.96 L893.08,302.86 L893.33,302.77 L893.58,302.67 L893.83,302.56 L894.07,302.46 L894.32,302.35 L894.57,302.24 L894.82,302.13 L895.07,302.01 L895.32,301.89 L895.57,301.76 L895.82,301.62 L896.07,301.48 L896.32,301.33 L896.57,301.16 L896.82,300.98 L897.07,300.78 L897.32,300.56 L897.57,300.33 L897.81,300.08 L898.06,299.82 L898.31,299.54 L898.56,299.24 L898.81,298.92 L899.06,298.57 L899.31,298.20 L899.56,297.80 L899.81,297.36 L900.06,296.89 L900.31,296.38 L900.56,295.83 L900.81,295.18 L901.06,294.41 L901.30,293.47 L901.55,292.33 L901.80,290.65 L902.05,288.21 L902.30,284.88 L902.55,280.35 L902.80,269.95 L903.05,180.00 L903.20,73.70 L904.10,372.20 L904.40,373.20 L904.75,372.40 L905.00,371.09 L905.25,369.78 L905.50,368.48 L905.75,367.19 L906.00,365.90 L906.25,364.62 L906.50,363.35 L906.74,362.08 L906.99,360.81 L907.24,359.52 L907.49,358.21 L907.74,356.91 L907.99,355.61 L908.24,354.32 L908.49,353.07 L908.74,351.85 L908.99,350.69 L909.24,349.58 L909.49,348.55 L909.74,347.57 L909.99,346.62 L910.23,345.70 L910.48,344.80 L910.73,343.92 L910.98,343.07 L911.23,342.24 L911.48,341.43 L911.73,340.64 L911.98,339.87 L912.23,339.11 L912.48,338.37 L912.73,337.65 L912.98,336.94 L913.23,336.25 L913.48,335.57 L913.73,334.89 L913.97,334.23 L914.22,333.57 L914.47,332.93 L914.72,332.30 L914.97,331.67 L915.22,331.07 L915.47,330.47 L915.72,329.89 L915.97,329.32 L916.22,328.77 L916.47,328.23 L916.72,327.71 L916.97,327.21 L917.22,326.73 L917.47,326.26 L917.71,325.82 L917.96,325.38 L918.21,324.95 L918.46,324.54 L918.71,324.13 L918.96,323.74 L919.21,323.35 L919.46,322.98 L919.71,322.61 L919.96,322.25 L920.21,321.89 L920.46,321.55 L920.71,321.21 L920.96,320.88 L921.20,320.55 L921.45,320.23 L921.70,319.91 L921.95,319.60 L922.20,319.30 L922.45,319.00 L922.70,318.70 L922.95,318.40 L923.20,318.11 L923.45,317.83 L923.70,317.54 L923.95,317.27 L924.20,317.00 L924.45,316.73 L924.70,316.47 L924.94,316.21 L925.19,315.96 L925.44,315.72 L925.69,315.48 L925.94,315.25 L926.19,315.02 L926.44,314.80 L926.69,314.59 L926.94,314.39 L927.19,314.19 L927.44,313.99 L927.69,313.79 L927.94,313.60 L928.19,313.42 L928.43,313.23 L928.68,313.05 L928.93,312.88 L929.18,312.70 L929.43,312.53 L929.68,312.36 L929.93,312.20 L930.18,312.04 L930.43,311.88 L930.68,311.72 L930.93,311.56 L931.18,311.41 L931.43,311.25 L931.68,311.10 L931.93,310.96 L932.17,310.81 L932.42,310.66 L932.67,310.52 L932.92,310.37 L933.17,310.23 L933.42,310.09 L933.67,309.95 L933.92,309.81 L934.17,309.68 L934.42,309.54 L934.67,309.41 L934.92,309.28 L935.17,309.15 L935.42,309.03 L935.67,308.90 L935.91,308.78 L936.16,308.66 L936.41,308.53 L936.66,308.41 L936.91,308.29 L937.16,308.18 L937.41,308.06 L937.66,307.94 L937.91,307.83 L938.16,307.71 L938.41,307.60 L938.66,307.48 L938.91,307.37 L939.16,307.26 L939.40,307.14 L939.65,307.03 L939.90,306.91 L940.15,306.80 L940.40,306.69 L940.65,306.57 L940.90,306.46 L941.15,306.35 L941.40,306.23 L941.65,306.12 L941.90,306.01 L942.15,305.90 L942.40,305.79 L942.65,305.69 L942.90,305.58 L943.14,305.47 L943.39,305.36 L943.64,305.25 L943.89,305.15 L944.14,305.04 L944.39,304.93 L944.64,304.83 L944.89,304.72 L945.14,304.61 L945.39,304.51 L945.64,304.40 L945.89,304.29 L946.14,304.19 L946.39,304.08 L946.63,303.97 L946.88,303.86 L947.13,303.75 L947.38,303.65 L947.63,303.54 L947.88,303.44 L948.13,303.35 L948.38,303.25 L948.63,303.15 L948.88,303.06 L949.13,302.96 L949.38,302.86 L949.63,302.77 L949.88,302.67 L950.13,302.56 L950.37,302.46 L950.62,302.35 L950.87,302.24 L951.12,302.13 L951.37,302.01 L951.62,301.89 L951.87,301.76 L952.12,301.62 L952.37,301.48 L952.62,301.33 L952.87,301.16 L953.12,300.98 L953.37,300.78 L953.62,300.56 L953.87,300.33 L954.11,300.08 L954.36,299.82 L954.61,299.54 L954.86,299.24 L955.11,298.92 L955.36,298.57 L955.61,298.20 L955.86,297.80 L956.11,297.36 L956.36,296.89 L956.61,296.38 L956.86,295.83 L957.11,295.18 L957.36,294.41 L957.60,293.47 L957.85,292.33 L958.10,290.65 L958.35,288.21 L958.60,284.88 L958.85,280.35 L959.10,269.95 L959.35,180.00 L959.50,76.90 L960.40,372.20 L960.70,373.20 L961.05,372.40 L961.30,371.09 L961.55,369.79 L961.80,368.49 L962.05,367.20 L962.29,365.91 L962.54,364.63 L962.79,363.36 L963.04,362.10 L963.29,360.83 L963.54,359.54 L963.79,358.24 L964.04,356.93 L964.29,355.64 L964.53,354.35 L964.78,353.10 L965.03,351.89 L965.28,350.72 L965.53,349.62 L965.78,348.59 L966.03,347.61 L966.28,346.66 L966.52,345.74 L966.77,344.84 L967.02,343.96 L967.27,343.11 L967.52,342.28 L967.77,341.47 L968.02,340.68 L968.27,339.91 L968.52,339.15 L968.76,338.42 L969.01,337.69 L969.26,336.99 L969.51,336.29 L969.76,335.61 L970.01,334.94 L970.26,334.27 L970.51,333.62 L970.76,332.98 L971.00,332.34 L971.25,331.72 L971.50,331.11 L971.75,330.52 L972.00,329.93 L972.25,329.37 L972.50,328.81 L972.75,328.28 L973.00,327.76 L973.24,327.25 L973.49,326.77 L973.74,326.31 L973.99,325.86 L974.24,325.42 L974.49,325.00 L974.74,324.58 L974.99,324.18 L975.23,323.78 L975.48,323.39 L975.73,323.02 L975.98,322.65 L976.23,322.29 L976.48,321.93 L976.73,321.59 L976.98,321.25 L977.23,320.92 L977.47,320.59 L977.72,320.27 L977.97,319.95 L978.22,319.64 L978.47,319.34 L978.72,319.03 L978.97,318.74 L979.22,318.44 L979.47,318.15 L979.71,317.87 L979.96,317.58 L980.21,317.31 L980.46,317.04 L980.71,316.77 L980.96,316.51 L981.21,316.25 L981.46,316.00 L981.71,315.76 L981.95,315.52 L982.20,315.28 L982.45,315.06 L982.70,314.84 L982.95,314.63 L983.20,314.42 L983.45,314.22 L983.70,314.02 L983.94,313.83 L984.19,313.63 L984.44,313.45 L984.69,313.26 L984.94,313.08 L985.19,312.90 L985.44,312.73 L985.69,312.56 L985.94,312.39 L986.18,312.22 L986.43,312.06 L986.68,311.90 L986.93,311.74 L987.18,311.58 L987.43,311.43 L987.68,311.27 L987.93,311.12 L988.18,310.97 L988.42,310.83 L988.67,310.68 L988.92,310.53 L989.17,310.39 L989.42,310.25 L989.67,310.11 L989.92,309.97 L990.17,309.83 L990.42,309.69 L990.66,309.56 L990.91,309.42 L991.16,309.29 L991.41,309.17 L991.66,309.04 L991.91,308.91 L992.16,308.79 L992.41,308.67 L992.66,308.54 L992.90,308.42 L993.15,308.30 L993.40,308.19 L993.65,308.07 L993.90,307.95 L994.15,307.84 L994.40,307.72 L994.65,307.61 L994.89,307.49 L995.14,307.38 L995.39,307.26 L995.64,307.15 L995.89,307.03 L996.14,306.92 L996.39,306.81 L996.64,306.69 L996.89,306.58 L997.13,306.46 L997.38,306.35 L997.63,306.24 L997.88,306.13 L998.13,306.02 L998.38,305.91 L998.63,305.80 L998.88,305.69 L999.13,305.58 L999.37,305.47 L999.62,305.36 L999.87,305.26 L1000.12,305.15 L1000.37,305.04 L1000.62,304.94 L1000.87,304.83 L1001.12,304.72 L1001.37,304.62 L1001.61,304.51 L1001.86,304.40 L1002.11,304.29 L1002.36,304.19 L1002.61,304.08 L1002.86,303.97 L1003.11,303.86 L1003.36,303.75 L1003.60,303.65 L1003.85,303.54 L1004.10,303.44 L1004.35,303.34 L1004.60,303.25 L1004.85,303.15 L1005.10,303.05 L1005.35,302.96 L1005.60,302.86 L1005.84,302.76 L1006.09,302.66 L1006.34,302.56 L1006.59,302.46 L1006.84,302.35 L1007.09,302.24 L1007.34,302.12 L1007.59,302.00 L1007.84,301.88 L1008.08,301.75 L1008.33,301.61 L1008.58,301.47 L1008.83,301.32 L1009.08,301.15 L1009.33,300.97 L1009.58,300.77 L1009.83,300.55 L1010.08,300.32 L1010.32,300.07 L1010.57,299.81 L1010.82,299.53 L1011.07,299.23 L1011.32,298.91 L1011.57,298.56 L1011.82,298.19 L1012.07,297.79 L1012.31,297.35 L1012.56,296.88 L1012.81,296.37 L1013.06,295.82 L1013.31,295.17 L1013.56,294.39 L1013.81,293.46 L1014.06,292.31 L1014.31,290.63 L1014.55,288.18 L1014.80,284.86 L1015.05,280.33 L1015.30,269.92 L1015.55,180.00 L1015.70,71.30 L1016.60,372.20 L1016.90,373.20 L1017.25,372.40 L1017.50,371.09 L1017.75,369.78 L1018.00,368.48 L1018.25,367.19 L1018.50,365.90 L1018.75,364.62 L1019.00,363.35 L1019.24,362.08 L1019.49,360.81 L1019.74,359.52 L1019.99,358.21 L1020.24,356.91 L1020.49,355.61 L1020.74,354.32 L1020.99,353.07 L1021.24,351.85 L1021.49,350.69 L1021.74,349.58 L1021.99,348.55 L1022.24,347.57 L1022.49,346.62 L1022.73,345.70 L1022.98,344.80 L1023.23,343.92 L1023.48,343.07 L1023.73,342.24 L1023.98,341.43 L1024.23,340.64 L1024.48,339.87 L1024.73,339.11 L1024.98,338.37 L1025.23,337.65 L1025.48,336.94 L1025.73,336.25 L1025.98,335.57 L1026.23,334.89 L1026.47,334.23 L1026.72,333.57 L1026.97,332.93 L1027.22,332.30 L1027.47,331.67 L1027.72,331.07 L1027.97,330.47 L1028.22,329.89 L1028.47,329.32 L1028.72,328.77 L1028.97,328.23 L1029.22,327.71 L1029.47,327.21 L1029.72,326.73 L1029.97,326.26 L1030.21,325.82 L1030.46,325.38 L1030.71,324.95 L1030.96,324.54 L1031.21,324.13 L1031.46,323.74 L1031.71,323.35 L1031.96,322.98 L1032.21,322.61 L1032.46,322.25 L1032.71,321.89 L1032.96,321.55 L1033.21,321.21 L1033.46,320.88 L1033.70,320.55 L1033.95,320.23 L1034.20,319.91 L1034.45,319.60 L1034.70,319.30 L1034.95,319.00 L1035.20,318.70 L1035.45,318.40 L1035.70,318.11 L1035.95,317.83 L1036.20,317.54 L1036.45,317.27 L1036.70,317.00 L1036.95,316.73 L1037.20,316.47 L1037.44,316.21 L1037.69,315.96 L1037.94,315.72 L1038.19,315.48 L1038.44,315.25 L1038.69,315.02 L1038.94,314.80 L1039.19,314.59 L1039.44,314.39 L1039.69,314.19 L1039.94,313.99 L1040.19,313.79 L1040.44,313.60 L1040.69,313.42 L1040.93,313.23 L1041.18,313.05 L1041.43,312.88 L1041.68,312.70 L1041.93,312.53 L1042.18,312.36 L1042.43,312.20 L1042.68,312.04 L1042.93,311.88 L1043.18,311.72 L1043.43,311.56 L1043.68,311.41 L1043.93,311.25 L1044.18,311.10 L1044.43,310.96 L1044.67,310.81 L1044.92,310.66 L1045.17,310.52 L1045.42,310.37 L1045.67,310.23 L1045.92,310.09 L1046.17,309.95 L1046.42,309.81 L1046.67,309.68 L1046.92,309.54 L1047.17,309.41 L1047.42,309.28 L1047.67,309.15 L1047.92,309.03 L1048.17,308.90 L1048.41,308.78 L1048.66,308.66 L1048.91,308.53 L1049.16,308.41 L1049.41,308.29 L1049.66,308.18 L1049.91,308.06 L1050.16,307.94 L1050.41,307.83 L1050.66,307.71 L1050.91,307.60 L1051.16,307.48 L1051.41,307.37 L1051.66,307.26 L1051.90,307.14 L1052.15,307.03 L1052.40,306.91 L1052.65,306.80 L1052.90,306.69 L1053.15,306.57 L1053.40,306.46 L1053.65,306.35 L1053.90,306.23 L1054.15,306.12 L1054.40,306.01 L1054.65,305.90 L1054.90,305.79 L1055.15,305.69 L1055.40,305.58 L1055.64,305.47 L1055.89,305.36 L1056.14,305.25 L1056.39,305.15 L1056.64,305.04 L1056.89,304.93 L1057.14,304.83 L1057.39,304.72 L1057.64,304.61 L1057.89,304.51 L1058.14,304.40 L1058.39,304.29 L1058.64,304.19 L1058.89,304.08 L1059.13,303.97 L1059.38,303.86 L1059.63,303.75 L1059.88,303.65 L1060.13,303.54 L1060.38,303.44 L1060.63,303.35 L1060.88,303.25 L1061.13,303.15 L1061.38,303.06 L1061.63,302.96 L1061.88,302.86 L1062.13,302.77 L1062.38,302.67 L1062.63,302.56 L1062.87,302.46 L1063.12,302.35 L1063.37,302.24 L1063.62,302.13 L1063.87,302.01 L1064.12,301.89 L1064.37,301.76 L1064.62,301.62 L1064.87,301.48 L1065.12,301.33 L1065.37,301.16 L1065.62,300.98 L1065.87,300.78 L1066.12,300.56 L1066.37,300.33 L1066.61,300.08 L1066.86,299.82 L1067.11,299.54 L1067.36,299.24 L1067.61,298.92 L1067.86,298.57 L1068.11,298.20 L1068.36,297.80 L1068.61,297.36 L1068.86,296.89 L1069.11,296.38 L1069.36,295.83 L1069.61,295.18 L1069.86,294.41 L1070.10,293.47 L1070.35,292.33 L1070.60,290.65 L1070.85,288.21 L1071.10,284.88 L1071.35,280.35 L1071.60,269.95 L1071.85,180.00 L1072.00,74.70 L1072.90,372.20 L1073.20,373.20 L1073.55,372.40 L1073.80,371.09 L1074.05,369.78 L1074.30,368.48 L1074.55,367.18 L1074.80,365.89 L1075.05,364.61 L1075.30,363.34 L1075.55,362.07 L1075.80,360.80 L1076.04,359.51 L1076.29,358.21 L1076.54,356.90 L1076.79,355.59 L1077.04,354.31 L1077.29,353.06 L1077.54,351.84 L1077.79,350.68 L1078.04,349.57 L1078.29,348.54 L1078.54,347.56 L1078.79,346.61 L1079.04,345.69 L1079.29,344.79 L1079.54,343.91 L1079.79,343.06 L1080.04,342.23 L1080.29,341.42 L1080.54,340.63 L1080.78,339.85 L1081.03,339.10 L1081.28,338.36 L1081.53,337.64 L1081.78,336.93 L1082.03,336.23 L1082.28,335.55 L1082.53,334.88 L1082.78,334.21 L1083.03,333.56 L1083.28,332.91 L1083.53,332.28 L1083.78,331.66 L1084.03,331.05 L1084.28,330.45 L1084.53,329.87 L1084.78,329.30 L1085.03,328.75 L1085.28,328.22 L1085.52,327.70 L1085.77,327.20 L1086.02,326.71 L1086.27,326.25 L1086.52,325.80 L1086.77,325.37 L1087.02,324.94 L1087.27,324.53 L1087.52,324.12 L1087.77,323.73 L1088.02,323.34 L1088.27,322.96 L1088.52,322.59 L1088.77,322.23 L1089.02,321.88 L1089.27,321.53 L1089.52,321.20 L1089.77,320.86 L1090.02,320.54 L1090.26,320.22 L1090.51,319.90 L1090.76,319.59 L1091.01,319.28 L1091.26,318.98 L1091.51,318.68 L1091.76,318.39 L1092.01,318.10 L1092.26,317.81 L1092.51,317.53 L1092.76,317.25 L1093.01,316.98 L1093.26,316.72 L1093.51,316.46 L1093.76,316.20 L1094.01,315.95 L1094.26,315.71 L1094.51,315.47 L1094.76,315.24 L1095.00,315.01 L1095.25,314.79 L1095.50,314.58 L1095.75,314.37 L1096.00,314.17 L1096.25,313.98 L1096.50,313.78 L1096.75,313.59 L1097.00,313.40 L1097.25,313.22 L1097.50,313.04 L1097.75,312.86 L1098.00,312.69 L1098.25,312.52 L1098.50,312.35 L1098.75,312.18 L1099.00,312.02 L1099.25,311.86 L1099.50,311.70 L1099.75,311.54 L1099.99,311.39 L1100.24,311.23 L1100.49,311.08 L1100.74,310.93 L1100.99,310.79 L1101.24,310.64 L1101.49,310.49 L1101.74,310.35 L1101.99,310.21 L1102.24,310.07 L1102.49,309.93 L1102.74,309.79 L1102.99,309.65 L1103.24,309.52 L1103.49,309.39 L1103.74,309.26 L1103.99,309.13 L1104.24,309.00 L1104.49,308.87 L1104.73,308.75 L1104.98,308.63 L1105.23,308.51 L1105.48,308.39 L1105.73,308.27 L1105.98,308.15 L1106.23,308.03 L1106.48,307.91 L1106.73,307.80 L1106.98,307.68 L1107.23,307.57 L1107.48,307.45 L1107.73,307.34 L1107.98,307.22 L1108.23,307.11 L1108.48,306.99 L1108.73,306.88 L1108.98,306.77 L1109.23,306.65 L1109.47,306.54 L1109.72,306.42 L1109.97,306.31 L1110.22,306.21 L1110.47,306.10 L1110.72,305.99 L1110.97,305.89 L1111.22,305.78 L1111.47,305.68 L1111.72,305.57 L1111.97,305.47 L1112.22,305.36 L1112.47,305.26 L1112.72,305.15 L1112.97,305.05 L1113.22,304.94 L1113.47,304.84 L1113.72,304.73 L1113.97,304.62 L1114.21,304.51 L1114.46,304.40 L1114.71,304.29 L1114.96,304.17 L1115.21,304.06 L1115.46,303.94 L1115.71,303.82 L1115.96,303.69 L1116.21,303.57 L1116.46,303.44 L1116.71,303.32 L1116.96,303.19 L1117.21,303.06 L1117.46,302.93 L1117.71,302.79 L1117.96,302.66 L1118.20,302.53" fill="none" stroke="#ff0000" stroke-width="3" stroke-linejoin="miter" stroke-miterlimit="2" stroke-linecap="butt"/>
<path d="M124.00,719.60 L124.70,707.00 L125.40,694.00 L126.00,675.00 L126.40,600.00 L126.70,416.90 L127.70,746.30 L128.10,746.30 L128.40,742.97 L128.65,738.14 L128.90,732.61 L129.15,726.00 L129.40,718.84 L129.65,713.99 L129.90,710.50 L130.15,706.75 L130.50,701.50 L130.75,696.50 L130.95,690.50 L131.20,680.50 L131.50,660.50 L131.80,611.50 L132.20,412.90 L133.20,746.60 L133.60,746.60 L133.90,742.97 L134.15,738.14 L134.40,732.61 L134.65,726.00 L134.90,718.84 L135.15,713.99 L135.40,710.50 L135.70,706.00 L135.95,701.00 L136.15,695.00 L136.40,685.00 L136.70,665.00 L137.00,616.00 L137.40,410.90 L138.40,746.60 L138.80,746.60 L139.10,742.97 L139.35,738.14 L139.60,732.61 L139.85,726.00 L140.10,718.84 L140.35,713.99 L140.60,710.50 L140.90,706.00 L141.15,701.00 L141.35,695.00 L141.60,685.00 L141.90,665.00 L142.20,616.00 L142.60,410.70 L143.60,746.60 L144.00,746.60 L144.30,742.97 L144.55,738.14 L144.80,732.61 L145.05,726.00 L145.30,718.84 L145.55,713.99 L145.80,710.50 L146.05,706.75 L146.40,701.50 L146.65,696.50 L146.85,690.50 L147.10,680.50 L147.40,660.50 L147.70,611.50 L148.10,413.10 L149.10,747.90 L149.50,747.90 L149.80,742.97 L150.05,738.14 L150.30,732.61 L150.55,726.00 L150.80,718.84 L151.05,713.99 L151.30,710.50 L151.55,706.75 L151.80,702.92 L152.05,697.92 L152.25,691.92 L152.50,681.92 L152.80,661.92 L153.10,612.92 L153.50,412.00 L154.50,747.90 L154.90,747.90 L155.20,742.97 L155.45,738.14 L155.70,732.61 L155.95,726.00 L156.20,718.84 L156.45,713.99 L156.70,710.50 L156.95,706.75 L157.30,701.50 L157.55,696.50 L157.75,690.50 L158.00,680.50 L158.30,660.50 L158.60,611.50 L159.00,412.30 L160.00,747.00 L160.40,747.00 L160.70,742.97 L160.95,738.14 L161.20,732.61 L161.45,726.00 L161.70,718.84 L161.95,713.99 L162.20,710.50 L162.45,706.75 L162.80,701.50 L163.05,696.50 L163.25,690.50 L163.50,680.50 L163.80,660.50 L164.10,611.50 L164.50,412.00 L165.50,746.60 L165.90,746.60 L166.20,742.92 L166.45,738.12 L166.70,732.69 L166.95,726.37 L167.20,719.66 L167.45,715.06 L167.70,711.69 L167.95,708.09 L168.20,704.42 L168.45,701.12 L168.60,699.25 L168.85,694.25 L169.05,688.25 L169.30,678.25 L169.60,658.25 L169.90,609.25 L170.30,415.10 L171.30,747.90 L171.70,747.90 L172.00,742.92 L172.25,738.12 L172.50,732.69 L172.75,726.37 L173.00,719.66 L173.25,715.06 L173.50,711.69 L173.75,708.09 L174.00,704.42 L174.25,701.12 L174.40,699.25 L174.65,694.25 L174.85,688.25 L175.10,678.25 L175.40,658.25 L175.70,609.25 L176.10,414.00 L177.10,747.90 L177.50,747.90 L177.80,742.88 L178.05,738.09 L178.30,732.78 L178.55,726.73 L178.80,720.48 L179.05,716.13 L179.30,712.88 L179.55,709.43 L179.80,705.91 L180.05,702.73 L180.40,698.71 L180.65,693.71 L180.85,687.71 L181.10,677.71 L181.40,657.71 L181.70,608.71 L182.10,416.00 L183.10,747.90 L183.50,747.90 L183.80,742.84 L184.05,738.06 L184.30,732.87 L184.55,727.10 L184.80,721.30 L185.05,717.21 L185.30,714.07 L185.55,710.77 L185.80,707.41 L186.05,704.34 L186.30,701.47 L186.60,698.62 L186.85,693.62 L187.05,687.62 L187.30,677.62 L187.60,657.62 L187.90,608.62 L188.30,417.30 L189.30,747.60 L189.70,747.60 L190.00,742.82 L190.25,738.04 L190.50,732.91 L190.75,727.28 L191.00,721.71 L191.25,717.74 L191.50,714.67 L191.75,711.44 L192.00,708.16 L192.25,705.14 L192.50,702.32 L192.75,699.89 L192.90,698.67 L193.15,693.67 L193.35,687.67 L193.60,677.67 L193.90,657.67 L194.20,608.67 L194.60,420.00 L195.60,746.40 L196.00,746.40 L196.30,742.70 L196.55,737.96 L196.80,733.18 L197.05,728.38 L197.30,724.18 L197.55,720.96 L197.80,718.24 L198.05,715.47 L198.30,712.65 L198.55,709.96 L198.80,707.40 L199.05,705.04 L199.30,702.85 L199.55,700.74 L199.80,698.72 L200.05,693.72 L200.25,687.72 L200.50,677.72 L200.80,657.72 L201.10,608.72 L201.50,419.10 L202.50,747.10 L202.90,747.10 L203.20,742.63 L203.45,737.91 L203.70,733.31 L203.95,728.93 L204.20,725.41 L204.45,722.57 L204.70,720.03 L204.95,717.48 L205.20,714.90 L205.45,712.37 L205.70,709.94 L205.95,707.61 L206.20,705.32 L206.45,703.08 L206.70,700.90 L206.95,698.79 L207.20,696.77 L207.40,695.24 L207.65,690.24 L207.85,684.24 L208.10,674.24 L208.40,654.24 L208.70,605.24 L209.10,422.30 L210.10,746.60 L210.50,746.60 L210.80,742.63 L211.05,737.91 L211.30,733.31 L211.55,728.93 L211.80,725.41 L212.05,722.57 L212.30,720.03 L212.55,717.48 L212.80,714.90 L213.05,712.37 L213.30,709.94 L213.55,707.61 L213.80,705.32 L214.05,703.08 L214.30,700.90 L214.55,698.79 L214.80,696.77 L215.05,694.87 L215.30,693.05 L215.55,691.31 L215.80,689.69 L216.05,684.69 L216.25,678.69 L216.50,668.69 L216.80,648.69 L217.10,599.69 L217.50,423.70 L218.50,746.90 L218.90,746.90 L219.20,742.90 L219.45,738.00 L219.70,732.79 L219.95,727.62 L220.20,723.24 L220.45,719.20 L220.70,715.45 L220.95,711.97 L221.20,708.72 L221.45,705.59 L221.70,702.65 L221.95,700.01 L222.20,697.80 L222.45,695.95 L222.70,694.29 L222.95,692.79 L223.20,691.40 L223.45,690.09 L223.70,688.82 L223.95,687.54 L224.20,686.28 L224.45,685.05 L224.70,683.86 L224.95,682.70 L225.20,681.57 L225.45,680.48 L225.70,679.41 L225.95,678.39 L226.20,677.39 L226.45,676.42 L226.70,675.46 L226.95,674.53 L227.20,673.62 L227.45,672.75 L227.70,671.93 L227.95,671.18 L228.20,666.18 L228.40,660.18 L228.65,650.18 L228.95,630.18 L229.25,581.18 L229.65,431.30 L230.65,747.10 L231.05,747.10 L231.55,738.01 L232.05,729.37 L232.55,721.30 L233.05,713.65 L233.55,707.76 L234.05,703.12 L234.55,699.53 L235.05,697.02 L235.55,694.95 L236.05,693.32 L236.55,692.22 L237.05,691.42 L237.55,690.79 L238.05,690.34 L238.55,690.09 L239.05,689.91 L239.55,689.81 L240.05,689.84 L240.55,690.01 L241.05,690.22 L241.55,690.52 L242.05,690.91 L242.55,691.28 L243.05,691.65 L243.55,692.03 L244.04,692.42 L244.54,692.82 L245.04,693.21 L245.54,693.61 L246.04,694.01 L246.54,694.41 L247.04,694.80 L247.54,695.18 L248.04,695.56 L248.54,695.94 L249.04,696.31 L249.54,696.68 L250.04,697.03 L250.54,697.37 L251.04,697.70 L251.54,698.03 L252.04,698.35 L252.54,698.67 L253.04,698.97 L253.54,699.27 L254.04,699.55 L254.54,699.83 L255.04,700.10 L255.54,700.37 L256.04,700.63 L256.54,700.88 L257.04,701.13 L257.54,701.37 L258.04,701.61 L258.54,701.84 L259.04,702.07 L259.54,702.30 L260.04,702.52 L260.54,702.74 L261.04,702.95 L261.54,703.16 L262.04,703.37 L262.54,703.58 L263.04,703.78 L263.54,703.97 L264.04,704.16 L264.54,704.34 L265.04,704.51 L265.54,704.68 L266.04,704.84 L266.54,705.00 L267.04,705.15 L267.54,705.30 L268.04,705.45 L268.54,705.59 L269.04,705.73 L269.53,705.87 L270.03,706.01 L270.53,706.15 L271.03,706.28 L271.53,706.42 L272.03,706.55 L272.53,706.68 L273.03,706.81 L273.53,706.94 L274.03,707.07 L274.53,707.20 L275.03,707.32 L275.53,707.45 L276.03,707.57 L276.53,707.69 L277.03,707.81 L277.53,707.93 L278.03,708.05 L278.53,708.17 L279.03,708.28 L279.53,708.40 L280.03,708.51 L280.53,708.62 L281.03,708.72 L281.53,708.82 L282.03,708.92 L282.53,709.02 L283.03,709.12 L283.53,709.21 L284.03,709.31 L284.53,709.40 L285.03,709.49 L285.53,709.58 L286.03,709.68 L286.53,709.77 L287.03,709.87 L287.53,709.97 L288.03,710.07 L288.53,710.17 L289.03,710.28 L289.53,710.39 L290.03,710.51 L290.53,710.63 L291.03,710.76 L291.53,710.89 L292.03,711.03 L292.53,711.17 L293.03,711.32 L293.53,711.47 L294.03,711.63 L294.52,711.78 L295.02,711.93 L295.52,712.09 L296.02,712.24 L296.52,712.39 L297.02,712.54 L297.52,712.68 L298.02,712.82 L298.52,712.95 L299.02,713.08 L299.52,713.20 L300.02,713.30 L300.52,713.41 L301.02,713.51 L301.52,713.61 L302.02,713.70 L302.52,713.80 L303.02,713.89 L303.52,713.98 L304.02,714.07 L304.52,714.15 L305.02,714.23 L305.52,714.32 L306.02,714.40 L306.52,714.48 L307.02,714.55 L307.52,714.63 L308.02,714.71 L308.52,714.78 L309.02,714.86 L309.52,714.93 L310.02,715.00 L310.52,715.08 L311.02,715.15 L311.52,715.22 L312.02,715.29 L312.52,715.36 L313.02,715.43 L313.52,715.49 L314.02,715.56 L314.52,715.63 L315.02,715.69 L315.52,715.76 L316.02,715.82 L316.52,715.89 L317.02,715.95 L317.52,716.01 L318.02,716.07 L318.52,716.14 L319.02,716.20 L319.52,716.26 L320.01,716.32 L320.51,716.38 L321.01,716.44 L321.51,716.50 L322.01,716.56 L322.51,716.62 L323.01,716.68 L323.51,716.74 L324.01,716.79 L324.51,716.85 L325.01,716.91 L325.51,716.97 L326.01,717.03 L326.51,717.09 L327.01,717.15 L327.51,717.20 L328.01,717.26 L328.51,717.32 L329.01,717.38 L329.51,717.44 L330.01,717.50 L330.51,717.56 L331.01,717.62 L331.51,717.68 L332.01,717.74 L332.51,717.80 L333.01,717.86 L333.51,717.92 L334.01,717.98 L334.51,718.04 L335.01,718.10 L335.51,718.16 L336.01,718.22 L336.51,718.27 L337.01,718.33 L337.51,718.39 L338.01,718.45 L338.51,718.51 L339.01,718.57 L339.51,718.62 L340.01,718.68 L340.51,718.74 L341.01,718.80 L341.51,718.86 L342.01,718.91 L342.51,718.97 L343.01,719.03 L343.51,719.08 L344.01,719.14 L344.51,719.20 L345.01,719.25 L345.50,719.31 L346.00,719.36 L346.50,719.42 L347.00,719.47 L347.50,719.53 L348.00,719.58 L348.50,719.64 L349.00,719.69 L349.50,719.75 L350.00,719.80 L350.50,719.85 L351.00,719.91 L351.50,719.96 L352.00,720.02 L352.50,720.07 L353.00,720.12 L353.50,720.18 L354.00,720.23 L354.50,720.29 L355.00,720.34 L355.50,720.40 L356.00,720.45 L356.50,720.51 L357.00,720.56 L357.50,720.61 L358.00,720.67 L358.50,720.72 L359.00,720.77 L359.50,720.83 L360.00,720.88 L360.50,720.93 L361.00,720.98 L361.50,721.03 L362.00,721.09 L362.50,721.14 L363.00,721.18 L363.50,721.23 L364.00,721.28 L364.50,721.33 L365.00,721.38 L365.50,721.42 L366.00,721.47 L366.50,721.51 L367.00,721.56 L367.50,721.60 L368.00,721.64 L368.50,721.68 L369.00,721.72 L369.50,721.76 L370.00,721.80 L370.49,721.84 L370.99,721.87 L371.49,721.91 L371.99,721.94 L372.49,721.98 L372.99,722.01 L373.49,722.04 L373.99,722.08 L374.49,722.11 L374.99,722.14 L375.49,722.17 L375.99,722.20 L376.49,722.23 L376.99,722.26 L377.49,722.29 L377.99,722.32 L378.49,722.35 L378.99,722.38 L379.49,722.40 L379.99,722.43 L380.49,722.46 L380.99,722.49 L381.49,722.51 L381.99,722.54 L382.49,722.57 L382.99,722.60 L383.49,722.62 L383.99,722.65 L384.49,722.68 L384.99,722.71 L385.49,722.73 L385.99,722.76 L386.49,722.79 L386.99,722.82 L387.49,722.85 L387.99,722.88 L388.49,722.91 L388.99,722.94 L389.49,722.97 L389.99,723.00 L390.49,723.03 L390.99,723.06 L391.49,723.09 L391.99,723.13 L392.49,723.16 L392.99,723.19 L393.49,723.22 L393.99,723.26 L394.49,723.29 L394.99,723.32 L395.49,723.36 L395.98,723.39 L396.48,723.43 L396.98,723.46 L397.48,723.49 L397.98,723.53 L398.48,723.56 L398.98,723.60 L399.48,723.63 L399.98,723.66 L400.48,723.70 L400.98,723.73 L401.48,723.76 L401.98,723.80 L402.48,723.83 L402.98,723.86 L403.48,723.90 L403.98,723.93 L404.48,723.96 L404.98,724.00 L405.48,724.03 L405.98,724.06 L406.48,724.09 L406.98,724.12 L407.48,724.15 L407.98,724.18 L408.48,724.21 L408.98,724.24 L409.48,724.27 L409.98,724.30 L410.48,724.33 L410.98,724.35 L411.48,724.38 L411.98,724.41 L412.48,724.44 L412.98,724.46 L413.48,724.49 L413.98,724.52 L414.48,724.54 L414.98,724.57 L415.48,724.59 L415.98,724.62 L416.48,724.64 L416.98,724.67 L417.48,724.69 L417.98,724.72 L418.48,724.74 L418.98,724.77 L419.48,724.79 L419.98,724.82 L420.48,724.84 L420.98,724.86 L421.47,724.89 L421.97,724.91 L422.47,724.94 L422.97,724.96 L423.47,724.98 L423.97,725.01 L424.47,725.03 L424.97,725.05 L425.47,725.08 L425.97,725.10 L426.47,725.13 L426.97,725.15 L427.47,725.18 L427.97,725.20 L428.47,725.22 L428.97,725.25 L429.47,725.27 L429.97,725.30 L430.47,725.32 L430.97,725.35 L431.47,725.37 L431.97,725.40 L432.47,725.43 L432.97,725.45 L433.47,725.48 L433.97,725.50 L434.47,725.53 L434.97,725.56 L435.47,725.58 L435.97,725.61 L436.47,725.64 L436.97,725.66 L437.47,725.69 L437.97,725.72 L438.47,725.74 L438.97,725.77 L439.47,725.79 L439.97,725.82 L440.47,725.85 L440.97,725.87 L441.47,725.90 L441.97,725.92 L442.47,725.95 L442.97,725.97 L443.47,726.00 L443.97,726.02 L444.47,726.05 L444.97,726.07 L445.47,726.10 L445.97,726.12 L446.47,726.14 L446.96,726.17 L447.46,726.19 L447.96,726.21 L448.46,726.23 L448.96,726.26 L449.46,726.28 L449.96,726.30 L450.46,726.32 L450.96,726.34 L451.46,726.36 L451.96,726.38 L452.46,726.40 L452.96,726.42 L453.46,726.43 L453.96,726.45 L454.46,726.47 L454.96,726.49 L455.46,726.51 L455.96,726.52 L456.46,726.54 L456.96,726.56 L457.46,726.58 L457.96,726.59 L458.46,726.61 L458.96,726.63 L459.46,726.64 L459.96,726.66 L460.46,726.67 L460.96,726.69 L461.46,726.71 L461.96,726.72 L462.46,726.74 L462.96,726.76 L463.46,726.77 L463.96,726.79 L464.46,726.81 L464.96,726.82 L465.46,726.84 L465.96,726.86 L466.46,726.87 L466.96,726.89 L467.46,726.91 L467.96,726.93 L468.46,726.94 L468.96,726.96 L469.46,726.98 L469.96,727.00 L470.46,727.02 L470.96,727.04 L471.46,727.06 L471.95,727.08 L472.45,727.10 L472.95,727.12 L473.45,727.14 L473.95,727.16 L474.45,727.18 L474.95,727.20 L475.45,727.22 L475.95,727.24 L476.45,727.26 L476.95,727.28 L477.45,727.31 L477.95,727.33 L478.45,727.35 L478.95,727.37 L479.45,727.39 L479.95,727.41 L480.45,727.44 L480.95,727.46 L481.45,727.48 L481.95,727.50 L482.45,727.52 L482.95,727.54 L483.45,727.56 L483.95,727.58 L484.45,727.60 L484.95,727.62 L485.45,727.64 L485.95,727.66 L486.45,727.68 L486.95,727.70 L487.45,727.72 L487.95,727.73 L488.45,727.75 L488.95,727.77 L489.45,727.78 L489.95,727.80 L490.45,727.81 L490.95,727.83 L491.45,727.84 L491.95,727.86 L492.45,727.87 L492.95,727.89 L493.45,727.90 L493.95,727.92 L494.45,727.93 L494.95,727.95 L495.45,727.96 L495.95,727.97 L496.45,727.99 L496.95,728.00 L497.44,728.01 L497.94,728.03 L498.44,728.04 L498.94,728.05 L499.44,728.07 L499.94,728.08 L500.44,728.09 L500.94,728.10 L501.44,728.12 L501.94,728.13 L502.44,728.14 L502.94,728.15 L503.44,728.16 L503.94,728.17 L504.44,728.19 L504.94,728.20 L505.44,728.21 L505.94,728.22 L506.44,728.23 L506.94,728.24 L507.44,728.25 L507.94,728.26 L508.44,728.27 L508.94,728.28 L509.44,728.29 L509.94,728.30 L510.44,728.31 L510.94,728.32 L511.44,728.33 L511.94,728.34 L512.44,728.34 L512.94,728.35 L513.44,728.36 L513.94,728.37 L514.44,728.38 L514.94,728.39 L515.44,728.40 L515.94,728.40 L516.44,728.41 L516.94,728.42 L517.44,728.43 L517.94,728.43 L518.44,728.44 L518.94,728.45 L519.44,728.46 L519.94,728.46 L520.44,728.47 L520.94,728.48 L521.44,728.49 L521.94,728.49 L522.44,728.50 L522.93,728.51 L523.43,728.51 L523.93,728.52 L524.43,728.53 L524.93,728.53 L525.43,728.54 L525.93,728.55 L526.43,728.55 L526.93,728.56 L527.43,728.57 L527.93,728.57 L528.43,728.58 L528.93,728.59 L529.43,728.59 L529.93,728.60 L530.43,728.61 L530.93,728.61 L531.43,728.62 L531.93,728.62 L532.43,728.63 L532.93,728.64 L533.43,728.64 L533.93,728.65 L534.43,728.65 L534.93,728.66 L535.43,728.66 L535.93,728.67 L536.43,728.68 L536.93,728.68 L537.43,728.69 L537.93,728.69 L538.43,728.70 L538.93,728.70 L539.43,728.71 L539.93,728.71 L540.43,728.72 L540.93,728.73 L541.43,728.73 L541.93,728.74 L542.43,728.74 L542.93,728.75 L543.43,728.75 L543.93,728.76 L544.43,728.76 L544.93,728.77 L545.43,728.77 L545.93,728.78 L546.43,728.78 L546.93,728.79 L547.43,728.79 L547.92,728.80 L548.42,728.80 L548.92,728.81 L549.42,728.81 L549.92,728.82 L550.42,728.82 L550.92,728.82 L551.42,728.83 L551.92,728.83 L552.42,728.84 L552.92,728.84 L553.42,728.85 L553.92,728.85 L554.42,728.86 L554.92,728.86 L555.42,728.87 L555.92,728.87 L556.42,728.88 L556.92,728.88 L557.42,728.88 L557.92,728.89 L558.42,728.89 L558.92,728.90 L559.42,728.90 L559.92,728.91 L560.42,728.91 L560.92,728.91 L561.42,728.92 L561.92,728.92 L562.42,728.93 L562.92,728.93 L563.42,728.94 L563.92,728.94 L564.42,728.94 L564.92,728.95 L565.42,728.95 L565.92,728.96 L566.42,728.96 L566.92,728.97 L567.42,728.97 L567.92,728.97 L568.42,728.98 L568.92,728.98 L569.42,728.99 L569.92,728.99 L570.42,728.99 L570.92,729.00 L571.42,729.00 L571.92,729.01 L572.42,729.01 L572.92,729.02 L573.41,729.02 L573.91,729.02 L574.41,729.03 L574.91,729.03 L575.41,729.04 L575.91,729.04 L576.41,729.04 L576.91,729.05 L577.41,729.05 L577.91,729.06 L578.41,729.06 L578.91,729.07 L579.41,729.07 L579.91,729.07 L580.41,729.08 L580.91,729.08 L581.41,729.09 L581.91,729.09 L582.41,729.09 L582.91,729.10 L583.41,729.10 L583.91,729.11 L584.41,729.11 L584.91,729.12 L585.41,729.12 L585.91,729.12 L586.41,729.13 L586.91,729.13 L587.41,729.14 L587.91,729.14 L588.41,729.15 L588.91,729.15 L589.41,729.16 L589.91,729.16 L590.41,729.16 L590.91,729.17 L591.41,729.17 L591.91,729.18 L592.41,729.18 L592.91,729.19 L593.41,729.19 L593.91,729.20 L594.41,729.20 L594.91,729.21 L595.41,729.21 L595.91,729.22 L596.41,729.22 L596.91,729.22 L597.41,729.23 L597.91,729.23 L598.41,729.24 L598.90,729.24 L599.40,729.25 L599.90,729.25 L600.40,729.26 L600.90,729.26 L601.40,729.27 L601.90,729.27 L602.40,729.28 L602.90,729.28 L603.40,729.29 L603.90,729.30 L604.40,729.30 L604.90,729.31 L605.40,729.31 L605.90,729.32 L606.40,729.32 L606.90,729.33 L607.40,729.33 L607.90,729.34 L608.40,729.34 L608.90,729.35 L609.40,729.36 L609.90,729.36 L610.40,729.37 L610.90,729.37 L611.40,729.38 L611.90,729.38 L612.40,729.39 L612.90,729.40 L613.40,729.40 L613.90,729.41 L614.40,729.41 L614.90,729.42 L615.40,729.43 L615.90,729.43 L616.40,729.44 L616.90,729.45 L617.40,729.45 L617.90,729.46 L618.40,729.47 L618.90,729.47 L619.40,729.48 L619.90,729.49 L620.40,729.49 L620.90,729.50 L621.40,729.51 L621.90,729.51 L622.40,729.52 L622.90,729.53 L623.40,729.54 L623.90,729.54 L624.39,729.55 L624.89,729.56 L625.39,729.57 L625.89,729.58 L626.39,729.59 L626.89,729.60 L627.39,729.61 L627.89,729.62 L628.39,729.63 L628.89,729.64 L629.39,729.65 L629.89,729.66 L630.39,729.67 L630.89,729.68 L631.39,729.69 L631.89,729.70 L632.39,729.71 L632.89,729.72 L633.39,729.73 L633.89,729.75 L634.39,729.76 L634.89,729.77 L635.39,729.78 L635.89,729.79 L636.39,729.80 L636.89,729.82 L637.39,729.83 L637.89,729.84 L638.39,729.85 L638.89,729.86 L639.39,729.87 L639.89,729.89 L640.39,729.90 L640.89,729.91 L641.39,729.92 L641.89,729.93 L642.39,729.94 L642.89,729.95 L643.39,729.97 L643.89,729.98 L644.39,729.99 L644.89,730.00 L645.39,730.01 L645.89,730.02 L646.39,730.03 L646.89,730.04 L647.39,730.05 L647.89,730.06 L648.39,730.07 L648.89,730.08 L649.38,730.09 L649.88,730.10 L650.38,730.11 L650.88,730.12 L651.38,730.13 L651.88,730.14 L652.38,730.15 L652.88,730.16 L653.38,730.17 L653.88,730.17 L654.38,730.18 L654.88,730.19 L655.38,730.20 L655.88,730.20 L656.38,730.21 L656.88,730.22 L657.38,730.22 L657.88,730.23 L658.38,730.23 L658.88,730.24 L659.38,730.24 L659.88,730.25 L660.38,730.25 L660.88,730.26 L661.38,730.26 L661.88,730.27 L662.38,730.27 L662.88,730.27 L663.38,730.28 L663.88,730.28 L664.38,730.29 L664.88,730.29 L665.38,730.30 L665.88,730.30 L666.38,730.30 L666.88,730.31 L667.38,730.31 L667.88,730.32 L668.38,730.32 L668.88,730.32 L669.38,730.33 L669.88,730.33 L670.38,730.34 L670.88,730.34 L671.38,730.34 L671.88,730.35 L672.38,730.35 L672.88,730.36 L673.38,730.36 L673.88,730.36 L674.38,730.37 L674.87,730.37 L675.37,730.38 L675.87,730.38 L676.37,730.38 L676.87,730.39 L677.37,730.39 L677.87,730.39 L678.37,730.40 L678.87,730.40 L679.37,730.41 L679.87,730.41 L680.37,730.41 L680.87,730.42 L681.37,730.42 L681.87,730.42 L682.37,730.43 L682.87,730.43 L683.37,730.43 L683.87,730.44 L684.37,730.44 L684.87,730.45 L685.37,730.45 L685.87,730.45 L686.37,730.46 L686.87,730.46 L687.37,730.46 L687.87,730.47 L688.37,730.47 L688.87,730.47 L689.37,730.48 L689.87,730.48 L690.37,730.48 L690.87,730.49 L691.37,730.49 L691.87,730.49 L692.37,730.50 L692.87,730.50 L693.37,730.50 L693.87,730.51 L694.37,730.51 L694.87,730.51 L695.37,730.52 L695.87,730.52 L696.37,730.52 L696.87,730.53 L697.37,730.53 L697.87,730.53 L698.37,730.54 L698.87,730.54 L699.37,730.54 L699.87,730.55 L700.36,730.55 L700.86,730.55 L701.36,730.56 L701.86,730.56 L702.36,730.56 L702.86,730.57 L703.36,730.57 L703.86,730.57 L704.36,730.57 L704.86,730.58 L705.36,730.58 L705.86,730.58 L706.36,730.59 L706.86,730.59 L707.36,730.59 L707.86,730.60 L708.36,730.60 L708.86,730.60 L709.36,730.60 L709.86,730.61 L710.36,730.61 L710.86,730.61 L711.36,730.62 L711.86,730.62 L712.36,730.62 L712.86,730.63 L713.36,730.63 L713.86,730.63 L714.36,730.63 L714.86,730.64 L715.36,730.64 L715.86,730.64 L716.36,730.64 L716.86,730.65 L717.36,730.65 L717.86,730.65 L718.36,730.66 L718.86,730.66 L719.36,730.66 L719.86,730.66 L720.36,730.67 L720.86,730.67 L721.36,730.67 L721.86,730.67 L722.36,730.68 L722.86,730.68 L723.36,730.68 L723.86,730.68 L724.36,730.69 L724.86,730.69 L725.35,730.69 L725.85,730.69 L726.35,730.70 L726.85,730.70 L727.35,730.70 L727.85,730.71 L728.35,730.71 L728.85,730.71 L729.35,730.71 L729.85,730.71 L730.35,730.72 L730.85,730.72 L731.35,730.72 L731.85,730.72 L732.35,730.73 L732.85,730.73 L733.35,730.73 L733.85,730.73 L734.35,730.74 L734.85,730.74 L735.35,730.74 L735.85,730.74 L736.35,730.75 L736.85,730.75 L737.35,730.75 L737.85,730.75 L738.35,730.75 L738.85,730.76 L739.35,730.76 L739.85,730.76 L740.35,730.76 L740.85,730.77 L741.35,730.77 L741.85,730.77 L742.35,730.77 L742.85,730.77 L743.35,730.78 L743.85,730.78 L744.35,730.78 L744.85,730.78 L745.35,730.79 L745.85,730.79 L746.35,730.79 L746.85,730.79 L747.35,730.79 L747.85,730.80 L748.35,730.80 L748.85,730.80 L749.35,730.80 L749.85,730.80 L750.35,730.81 L750.84,730.81 L751.34,730.81 L751.84,730.81 L752.34,730.81 L752.84,730.82 L753.34,730.82 L753.84,730.82 L754.34,730.82 L754.84,730.82 L755.34,730.83 L755.84,730.83 L756.34,730.83 L756.84,730.83 L757.34,730.83 L757.84,730.84 L758.34,730.84 L758.84,730.84 L759.34,730.84 L759.84,730.84 L760.34,730.84 L760.84,730.85 L761.34,730.85 L761.84,730.85 L762.34,730.85 L762.84,730.85 L763.34,730.85 L763.84,730.86 L764.34,730.86 L764.84,730.86 L765.34,730.86 L765.84,730.86 L766.34,730.87 L766.84,730.87 L767.34,730.87 L767.84,730.87 L768.34,730.87 L768.84,730.87 L769.34,730.88 L769.84,730.88 L770.34,730.88 L770.84,730.88 L771.34,730.88 L771.84,730.88 L772.34,730.89 L772.84,730.89 L773.34,730.89 L773.84,730.89 L774.34,730.89 L774.84,730.89 L775.34,730.89 L775.84,730.90 L776.33,730.90 L776.83,730.90 L777.33,730.90 L777.83,730.90 L778.33,730.90 L778.83,730.90 L779.33,730.91 L779.83,730.91 L780.33,730.91 L780.83,730.91 L781.33,730.91 L781.83,730.91 L782.33,730.92 L782.83,730.92 L783.33,730.92 L783.83,730.92 L784.33,730.92 L784.83,730.92 L785.33,730.92 L785.83,730.92 L786.33,730.93 L786.83,730.93 L787.33,730.93 L787.83,730.93 L788.33,730.93 L788.83,730.93 L789.33,730.93 L789.83,730.94 L790.33,730.94 L790.83,730.94 L791.33,730.94 L791.83,730.94 L792.33,730.94 L792.83,730.94 L793.33,730.94 L793.83,730.95 L794.33,730.95 L794.83,730.95 L795.33,730.95 L795.83,730.95 L796.33,730.95 L796.83,730.95 L797.33,730.95 L797.83,730.96 L798.33,730.96 L798.83,730.96 L799.33,730.96 L799.83,730.96 L800.33,730.96 L800.83,730.96 L801.33,730.96 L801.82,730.96 L802.32,730.97 L802.82,730.97 L803.32,730.97 L803.82,730.97 L804.32,730.97 L804.82,730.97 L805.32,730.97 L805.82,730.97 L806.32,730.97 L806.82,730.97 L807.32,730.98 L807.82,730.98 L808.32,730.98 L808.82,730.98 L809.32,730.98 L809.82,730.98 L810.32,730.98 L810.82,730.98 L811.32,730.98 L811.82,730.98 L812.32,730.99 L812.82,730.99 L813.32,730.99 L813.82,730.99 L814.32,730.99 L814.82,730.99 L815.32,730.99 L815.82,730.99 L816.32,730.99 L816.82,730.99 L817.32,731.00 L817.82,731.00 L818.32,731.00 L818.82,731.00 L819.32,731.00 L819.82,731.00 L820.32,731.00 L820.82,731.00 L821.32,731.00 L821.82,731.00 L822.32,731.00 L822.82,731.00 L823.32,731.01 L823.82,731.01 L824.32,731.01 L824.82,731.01 L825.32,731.01 L825.82,731.01 L826.32,731.01 L826.81,731.01 L827.31,731.01 L827.81,731.01 L828.31,731.01 L828.81,731.01 L829.31,731.02 L829.81,731.02 L830.31,731.02 L830.81,731.02 L831.31,731.02 L831.81,731.02 L832.31,731.02 L832.81,731.02 L833.31,731.02 L833.81,731.02 L834.31,731.02 L834.81,731.02 L835.31,731.02 L835.81,731.03 L836.31,731.03 L836.81,731.03 L837.31,731.03 L837.81,731.03 L838.31,731.03 L838.81,731.03 L839.31,731.03 L839.81,731.03 L840.31,731.03 L840.81,731.03 L841.31,731.03 L841.81,731.03 L842.31,731.03 L842.81,731.03 L843.31,731.04 L843.81,731.04 L844.31,731.04 L844.81,731.04 L845.31,731.04 L845.81,731.04 L846.31,731.04 L846.81,731.04 L847.31,731.04 L847.81,731.04 L848.31,731.04 L848.81,731.04 L849.31,731.04 L849.81,731.04 L850.31,731.04 L850.81,731.04 L851.31,731.05 L851.81,731.05 L852.30,731.05 L852.80,731.05 L853.30,731.05 L853.80,731.05 L854.30,731.05 L854.80,731.05 L855.30,731.05 L855.80,731.05 L856.30,731.05 L856.80,731.05 L857.30,731.05 L857.80,731.05 L858.30,731.05 L858.80,731.05 L859.30,731.05 L859.80,731.06 L860.30,731.06 L860.80,731.06 L861.30,731.06 L861.80,731.06 L862.30,731.06 L862.80,731.06 L863.30,731.06 L863.80,731.06 L864.30,731.06 L864.80,731.06 L865.30,731.06 L865.80,731.06 L866.30,731.06 L866.80,731.06 L867.30,731.06 L867.80,731.06 L868.30,731.06 L868.80,731.06 L869.30,731.06 L869.80,731.07 L870.30,731.07 L870.80,731.07 L871.30,731.07 L871.80,731.07 L872.30,731.07 L872.80,731.07 L873.30,731.07 L873.80,731.07 L874.30,731.07 L874.80,731.07 L875.30,731.07 L875.80,731.07 L876.30,731.07 L876.80,731.07 L877.30,731.07 L877.79,731.07 L878.29,731.07 L878.79,731.07 L879.29,731.07 L879.79,731.07 L880.29,731.07 L880.79,731.08 L881.29,731.08 L881.79,731.08 L882.29,731.08 L882.79,731.08 L883.29,731.08 L883.79,731.08 L884.29,731.08 L884.79,731.08 L885.29,731.08 L885.79,731.08 L886.29,731.08 L886.79,731.08 L887.29,731.08 L887.79,731.08 L888.29,731.08 L888.79,731.08 L889.29,731.08 L889.79,731.08 L890.29,731.08 L890.79,731.08 L891.29,731.08 L891.79,731.08 L892.29,731.08 L892.79,731.08 L893.29,731.09 L893.79,731.09 L894.29,731.09 L894.79,731.09 L895.29,731.09 L895.79,731.09 L896.29,731.09 L896.79,731.09 L897.29,731.09 L897.79,731.09 L898.29,731.09 L898.79,731.09 L899.29,731.09 L899.79,731.09 L900.29,731.09 L900.79,731.09 L901.29,731.09 L901.79,731.09 L902.29,731.09 L902.78,731.09 L903.28,731.09 L903.78,731.09 L904.28,731.09 L904.78,731.09 L905.28,731.09 L905.78,731.09 L906.28,731.09 L906.78,731.09 L907.28,731.09 L907.78,731.10 L908.28,731.10 L908.78,731.10 L909.28,731.10 L909.78,731.10 L910.28,731.10 L910.78,731.10 L911.28,731.10 L911.78,731.10 L912.28,731.10 L912.78,731.10 L913.28,731.10 L913.78,731.10 L914.28,731.10 L914.78,731.10 L915.28,731.10 L915.78,731.10 L916.28,731.10 L916.78,731.10 L917.28,731.10 L917.78,731.10 L918.28,731.10 L918.78,731.10 L919.28,731.10 L919.78,731.10 L920.28,731.10 L920.78,731.10 L921.28,731.10 L921.78,731.10 L922.28,731.10 L922.78,731.10 L923.28,731.10 L923.78,731.11 L924.28,731.11 L924.78,731.11 L925.28,731.11 L925.78,731.11 L926.28,731.11 L926.78,731.11 L927.28,731.11 L927.78,731.11 L928.27,731.11 L928.77,731.11 L929.27,731.11 L929.77,731.11 L930.27,731.11 L930.77,731.11 L931.27,731.11 L931.77,731.11 L932.27,731.11 L932.77,731.11 L933.27,731.11 L933.77,731.11 L934.27,731.11 L934.77,731.11 L935.27,731.11 L935.77,731.11 L936.27,731.11 L936.77,731.11 L937.27,731.11 L937.77,731.11 L938.27,731.11 L938.77,731.11 L939.27,731.11 L939.77,731.11 L940.27,731.11 L940.77,731.11 L941.27,731.12 L941.77,731.12 L942.27,731.12 L942.77,731.12 L943.27,731.12 L943.77,731.12 L944.27,731.12 L944.77,731.12 L945.27,731.12 L945.77,731.12 L946.27,731.12 L946.77,731.12 L947.27,731.12 L947.77,731.12 L948.27,731.12 L948.77,731.12 L949.27,731.12 L949.77,731.12 L950.27,731.12 L950.77,731.12 L951.27,731.12 L951.77,731.12 L952.27,731.12 L952.77,731.12 L953.27,731.12 L953.76,731.12 L954.26,731.12 L954.76,731.12 L955.26,731.12 L955.76,731.12 L956.26,731.12 L956.76,731.12 L957.26,731.12 L957.76,731.12 L958.26,731.12 L958.76,731.13 L959.26,731.13 L959.76,731.13 L960.26,731.13 L960.76,731.13 L961.26,731.13 L961.76,731.13 L962.26,731.13 L962.76,731.13 L963.26,731.13 L963.76,731.13 L964.26,731.13 L964.76,731.13 L965.26,731.13 L965.76,731.13 L966.26,731.13 L966.76,731.13 L967.26,731.13 L967.76,731.13 L968.26,731.13 L968.76,731.13 L969.26,731.13 L969.76,731.13 L970.26,731.13 L970.76,731.13 L971.26,731.13 L971.76,731.13 L972.26,731.13 L972.76,731.13 L973.26,731.13 L973.76,731.13 L974.26,731.14 L974.76,731.14 L975.26,731.14 L975.76,731.14 L976.26,731.14 L976.76,731.14 L977.26,731.14 L977.76,731.14 L978.26,731.14 L978.76,731.14 L979.25,731.14 L979.75,731.14 L980.25,731.14 L980.75,731.14 L981.25,731.14 L981.75,731.14 L982.25,731.14 L982.75,731.14 L983.25,731.14 L983.75,731.14 L984.25,731.14 L984.75,731.14 L985.25,731.14 L985.75,731.14 L986.25,731.14 L986.75,731.14 L987.25,731.14 L987.75,731.14 L988.25,731.15 L988.75,731.15 L989.25,731.15 L989.75,731.15 L990.25,731.15 L990.75,731.15 L991.25,731.15 L991.75,731.15 L992.25,731.15 L992.75,731.15 L993.25,731.15 L993.75,731.15 L994.25,731.15 L994.75,731.15 L995.25,731.15 L995.75,731.15 L996.25,731.15 L996.75,731.15 L997.25,731.15 L997.75,731.15 L998.25,731.15 L998.75,731.15 L999.25,731.15 L999.75,731.15 L1000.25,731.16 L1000.75,731.16 L1001.25,731.16 L1001.75,731.16 L1002.25,731.16 L1002.75,731.16 L1003.25,731.16 L1003.75,731.16 L1004.24,731.16 L1004.74,731.16 L1005.24,731.16 L1005.74,731.16 L1006.24,731.16 L1006.74,731.16 L1007.24,731.16 L1007.74,731.16 L1008.24,731.16 L1008.74,731.16 L1009.24,731.16 L1009.74,731.16 L1010.24,731.16 L1010.74,731.16 L1011.24,731.17 L1011.74,731.17 L1012.24,731.17 L1012.74,731.17 L1013.24,731.17 L1013.74,731.17 L1014.24,731.17 L1014.74,731.17 L1015.24,731.17 L1015.74,731.17 L1016.24,731.17 L1016.74,731.17 L1017.24,731.17 L1017.74,731.17 L1018.24,731.17 L1018.74,731.17 L1019.24,731.17 L1019.74,731.17 L1020.24,731.17 L1020.74,731.18 L1021.24,731.18 L1021.74,731.18 L1022.24,731.18 L1022.74,731.18 L1023.24,731.18 L1023.74,731.18 L1024.24,731.18 L1024.74,731.18 L1025.24,731.18 L1025.74,731.18 L1026.24,731.18 L1026.74,731.18 L1027.24,731.18 L1027.74,731.18 L1028.24,731.18 L1028.74,731.18 L1029.24,731.19 L1029.73,731.19 L1030.23,731.19 L1030.73,731.19 L1031.23,731.19 L1031.73,731.19 L1032.23,731.19 L1032.73,731.19 L1033.23,731.19 L1033.73,731.19 L1034.23,731.19 L1034.73,731.19 L1035.23,731.19 L1035.73,731.19 L1036.23,731.19 L1036.73,731.20 L1037.23,731.20 L1037.73,731.20 L1038.23,731.20 L1038.73,731.20 L1039.23,731.20 L1039.73,731.20 L1040.23,731.20 L1040.73,731.20 L1041.23,731.20 L1041.73,731.20 L1042.23,731.20 L1042.73,731.20 L1043.23,731.20 L1043.73,731.20 L1044.23,731.21 L1044.73,731.21 L1045.23,731.21 L1045.73,731.21 L1046.23,731.21 L1046.73,731.21 L1047.23,731.21 L1047.73,731.21 L1048.23,731.21 L1048.73,731.21 L1049.23,731.21 L1049.73,731.21 L1050.23,731.21 L1050.73,731.22 L1051.23,731.22 L1051.73,731.22 L1052.23,731.22 L1052.73,731.22 L1053.23,731.22 L1053.73,731.22 L1054.23,731.22 L1054.73,731.22 L1055.22,731.22 L1055.72,731.22 L1056.22,731.22 L1056.72,731.23 L1057.22,731.23 L1057.72,731.23 L1058.22,731.23 L1058.72,731.23 L1059.22,731.23 L1059.72,731.23 L1060.22,731.23 L1060.72,731.23 L1061.22,731.23 L1061.72,731.23 L1062.22,731.24 L1062.72,731.24 L1063.22,731.24 L1063.72,731.24 L1064.22,731.24 L1064.72,731.24 L1065.22,731.24 L1065.72,731.24 L1066.22,731.24 L1066.72,731.24 L1067.22,731.24 L1067.72,731.25 L1068.22,731.25 L1068.72,731.25 L1069.22,731.25 L1069.72,731.25 L1070.22,731.25 L1070.72,731.25 L1071.22,731.25 L1071.72,731.25 L1072.22,731.25 L1072.72,731.26 L1073.22,731.26 L1073.72,731.26 L1074.22,731.26 L1074.72,731.26 L1075.22,731.26 L1075.72,731.27 L1076.22,731.27 L1076.72,731.27 L1077.22,731.27 L1077.72,731.27 L1078.22,731.27 L1078.72,731.28 L1079.22,731.28 L1079.72,731.28 L1080.21,731.28 L1080.71,731.28 L1081.21,731.29 L1081.71,731.29 L1082.21,731.29 L1082.71,731.29 L1083.21,731.29 L1083.71,731.30 L1084.21,731.30 L1084.71,731.30 L1085.21,731.30 L1085.71,731.31 L1086.21,731.31 L1086.71,731.31 L1087.21,731.31 L1087.71,731.32 L1088.21,731.32 L1088.71,731.32 L1089.21,731.32 L1089.71,731.33 L1090.21,731.33 L1090.71,731.33 L1091.21,731.34 L1091.71,731.34 L1092.21,731.34 L1092.71,731.34 L1093.21,731.35 L1093.71,731.35 L1094.21,731.35 L1094.71,731.36 L1095.21,731.36 L1095.71,731.36 L1096.21,731.36 L1096.71,731.37 L1097.21,731.37 L1097.71,731.37 L1098.21,731.38 L1098.71,731.38 L1099.21,731.38 L1099.71,731.39 L1100.21,731.39 L1100.71,731.39 L1101.21,731.39 L1101.71,731.40 L1102.21,731.40 L1102.71,731.40 L1103.21,731.41 L1103.71,731.41 L1104.21,731.41 L1104.71,731.42 L1105.21,731.42 L1105.70,731.42 L1106.20,731.43 L1106.70,731.43 L1107.20,731.43 L1107.70,731.44 L1108.20,731.44 L1108.70,731.44 L1109.20,731.44 L1109.70,731.45 L1110.20,731.45 L1110.70,731.45 L1111.20,731.46 L1111.70,731.46 L1112.20,731.46 L1112.70,731.47 L1113.20,731.47 L1113.70,731.47 L1114.20,731.48 L1114.70,731.48 L1115.20,731.48 L1115.70,731.49 L1116.20,731.49 L1116.70,731.49 L1117.20,731.49 L1117.70,731.50 L1118.20,731.50" fill="none" stroke="#0000ff" stroke-width="3" stroke-linejoin="miter" stroke-miterlimit="2" stroke-linecap="butt"/>
<g stroke="#000" stroke-width="2" fill="none">
<line x1="124" y1="782" x2="124" y2="793"/>
<line x1="621" y1="782" x2="621" y2="793"/>
<line x1="1118" y1="782" x2="1118" y2="793"/>
<rect x="74" y="32" width="1094" height="750" />
</g>
<text x="116.2" y="824.9" style="font-size:29.2px" textLength="15.6" lengthAdjust="spacingAndGlyphs">0</text>
<text x="597.65" y="824.9" style="font-size:29.2px" textLength="46.7" lengthAdjust="spacingAndGlyphs">500</text>
<text x="1086.85" y="824.9" style="font-size:29.2px" textLength="62.3" lengthAdjust="spacingAndGlyphs">1000</text>
<text x="621" y="863" text-anchor="middle">Time (ms)</text>
<text transform="translate(56.2,407) rotate(-90)" text-anchor="middle">Neurons</text>
</svg>
</body>
</html>
